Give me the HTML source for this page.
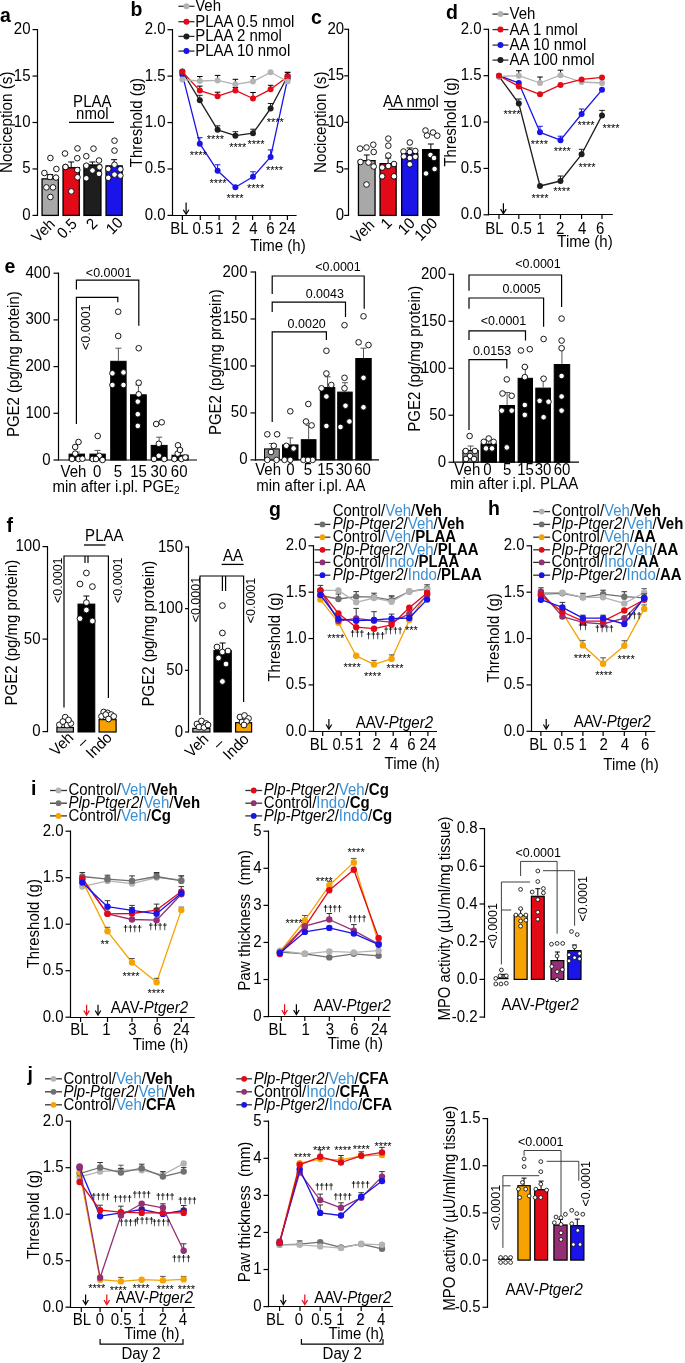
<!DOCTYPE html>
<html><head><meta charset="utf-8"><title>Figure</title>
<style>
html,body{margin:0;padding:0;background:#fff;}
body{width:685px;height:1363px;overflow:hidden;}
svg{display:block;will-change:transform;}
svg text{font-family:"Liberation Sans", sans-serif;}
</style></head><body>
<svg width="685" height="1363" viewBox="0 0 685 1363" font-family="Liberation Sans, sans-serif">
<rect width="685" height="1363" fill="#fff"/>
<text transform="translate(0 21.5) scale(1 1.04)" font-size="19.5" font-weight="bold">a</text>
<line x1="37.5" y1="29" x2="37.5" y2="216" stroke="#000" stroke-width="1.2" stroke-linecap="butt"/>
<line x1="32.5" y1="215.4" x2="37.5" y2="215.4" stroke="#000" stroke-width="1.2" stroke-linecap="butt"/>
<text transform="translate(30.5 219.9) scale(1 1.04)" font-size="15" text-anchor="end">0</text>
<line x1="32.5" y1="168.95" x2="37.5" y2="168.95" stroke="#000" stroke-width="1.2" stroke-linecap="butt"/>
<text transform="translate(30.5 173.45) scale(1 1.04)" font-size="15" text-anchor="end">5</text>
<line x1="32.5" y1="122.5" x2="37.5" y2="122.5" stroke="#000" stroke-width="1.2" stroke-linecap="butt"/>
<text transform="translate(30.5 127) scale(1 1.04)" font-size="15" text-anchor="end">10</text>
<line x1="32.5" y1="76.05" x2="37.5" y2="76.05" stroke="#000" stroke-width="1.2" stroke-linecap="butt"/>
<text transform="translate(30.5 80.55) scale(1 1.04)" font-size="15" text-anchor="end">15</text>
<line x1="32.5" y1="29.6" x2="37.5" y2="29.6" stroke="#000" stroke-width="1.2" stroke-linecap="butt"/>
<text transform="translate(30.5 34.1) scale(1 1.04)" font-size="15" text-anchor="end">20</text>
<text transform="translate(11.9 122.3) rotate(-90) scale(1 1.04)" font-size="15" text-anchor="middle" textLength="101.6" lengthAdjust="spacingAndGlyphs">Nociception (s)</text>
<rect x="42.05" y="178.89" width="16.3" height="36.51" fill="#a8a8a8" stroke="#000" stroke-width="1.3"/>
<line x1="50.2" y1="178.24" x2="50.2" y2="174.52" stroke="#000" stroke-width="1.0" stroke-linecap="butt"/>
<line x1="47.2" y1="174.52" x2="53.2" y2="174.52" stroke="#000" stroke-width="1.0" stroke-linecap="butt"/>
<rect x="63.05" y="167.74" width="16.3" height="47.66" fill="#e30a17" stroke="#000" stroke-width="1.3"/>
<line x1="71.2" y1="167.09" x2="71.2" y2="161.98" stroke="#000" stroke-width="1.0" stroke-linecap="butt"/>
<line x1="68.2" y1="161.98" x2="74.2" y2="161.98" stroke="#000" stroke-width="1.0" stroke-linecap="butt"/>
<rect x="83.95" y="164.96" width="17" height="50.45" fill="#1e1e1e" stroke="#000" stroke-width="1.3"/>
<line x1="92.45" y1="164.31" x2="92.45" y2="161.98" stroke="#000" stroke-width="1.0" stroke-linecap="butt"/>
<line x1="89.45" y1="161.98" x2="95.45" y2="161.98" stroke="#000" stroke-width="1.0" stroke-linecap="butt"/>
<rect x="106.05" y="165.88" width="16.1" height="49.52" fill="#1a14e8" stroke="#000" stroke-width="1.3"/>
<line x1="114.1" y1="165.23" x2="114.1" y2="159.66" stroke="#000" stroke-width="1.0" stroke-linecap="butt"/>
<line x1="111.1" y1="159.66" x2="117.1" y2="159.66" stroke="#000" stroke-width="1.0" stroke-linecap="butt"/>
<circle cx="50.4" cy="158" r="2.8" fill="#fff" stroke="#000" stroke-width="0.9"/>
<circle cx="44.4" cy="173" r="2.8" fill="#fff" stroke="#000" stroke-width="0.9"/>
<circle cx="56.4" cy="169" r="2.8" fill="#fff" stroke="#000" stroke-width="0.9"/>
<circle cx="50" cy="177" r="2.8" fill="#fff" stroke="#000" stroke-width="0.9"/>
<circle cx="56" cy="177.6" r="2.8" fill="#fff" stroke="#000" stroke-width="0.9"/>
<circle cx="46.4" cy="187.4" r="2.8" fill="#fff" stroke="#000" stroke-width="0.9"/>
<circle cx="53" cy="187.4" r="2.8" fill="#fff" stroke="#000" stroke-width="0.9"/>
<circle cx="50.4" cy="197" r="2.8" fill="#fff" stroke="#000" stroke-width="0.9"/>
<circle cx="65" cy="153.5" r="2.8" fill="#fff" stroke="#000" stroke-width="0.9"/>
<circle cx="77.5" cy="148.4" r="2.8" fill="#fff" stroke="#000" stroke-width="0.9"/>
<circle cx="65.5" cy="167" r="2.8" fill="#fff" stroke="#000" stroke-width="0.9"/>
<circle cx="77.3" cy="158.2" r="2.8" fill="#fff" stroke="#000" stroke-width="0.9"/>
<circle cx="77.5" cy="177.3" r="2.8" fill="#fff" stroke="#000" stroke-width="0.9"/>
<circle cx="65.5" cy="167" r="2.8" fill="#fff" stroke="#000" stroke-width="0.9"/>
<circle cx="71.3" cy="191.4" r="2.8" fill="#fff" stroke="#000" stroke-width="0.9"/>
<circle cx="77.3" cy="170" r="2.8" fill="#fff" stroke="#000" stroke-width="0.9"/>
<circle cx="86.3" cy="156.2" r="2.8" fill="#fff" stroke="#000" stroke-width="0.9"/>
<circle cx="93.5" cy="148.6" r="2.8" fill="#fff" stroke="#000" stroke-width="0.9"/>
<circle cx="99" cy="160.5" r="2.8" fill="#fff" stroke="#000" stroke-width="0.9"/>
<circle cx="86.3" cy="165.7" r="2.8" fill="#fff" stroke="#000" stroke-width="0.9"/>
<circle cx="92.5" cy="170.5" r="2.8" fill="#fff" stroke="#000" stroke-width="0.9"/>
<circle cx="99.5" cy="167.2" r="2.8" fill="#fff" stroke="#000" stroke-width="0.9"/>
<circle cx="86.3" cy="178.3" r="2.8" fill="#fff" stroke="#000" stroke-width="0.9"/>
<circle cx="99" cy="173.8" r="2.8" fill="#fff" stroke="#000" stroke-width="0.9"/>
<circle cx="114.5" cy="140.7" r="2.8" fill="#fff" stroke="#000" stroke-width="0.9"/>
<circle cx="114.5" cy="150.6" r="2.8" fill="#fff" stroke="#000" stroke-width="0.9"/>
<circle cx="114.5" cy="164.7" r="2.8" fill="#fff" stroke="#000" stroke-width="0.9"/>
<circle cx="108.3" cy="168.9" r="2.8" fill="#fff" stroke="#000" stroke-width="0.9"/>
<circle cx="120.4" cy="169.2" r="2.8" fill="#fff" stroke="#000" stroke-width="0.9"/>
<circle cx="114.5" cy="174.6" r="2.8" fill="#fff" stroke="#000" stroke-width="0.9"/>
<circle cx="108.3" cy="177.8" r="2.8" fill="#fff" stroke="#000" stroke-width="0.9"/>
<circle cx="120.4" cy="175.6" r="2.8" fill="#fff" stroke="#000" stroke-width="0.9"/>
<text transform="translate(92.3 106.6) scale(1 1.04)" font-size="15" text-anchor="middle">PLAA</text>
<text transform="translate(92.3 118.6) scale(1 1.04)" font-size="15" text-anchor="middle">nmol</text>
<line x1="69" y1="122.4" x2="114" y2="122.4" stroke="#000" stroke-width="1.3" stroke-linecap="butt"/>
<text transform="translate(56 225) rotate(-45) scale(1 1.04)" font-size="15" text-anchor="end">Veh</text>
<text transform="translate(78 224.8) rotate(-45) scale(1 1.04)" font-size="15" text-anchor="end">0.5</text>
<text transform="translate(98.5 224.5) rotate(-45) scale(1 1.04)" font-size="15" text-anchor="end">2</text>
<text transform="translate(124 223.5) rotate(-45) scale(1 1.04)" font-size="15" text-anchor="end">10</text>
<text transform="translate(130.5 15.5) scale(1 1.04)" font-size="19.5" font-weight="bold">b</text>
<line x1="172.5" y1="29.1" x2="172.5" y2="216" stroke="#000" stroke-width="1.2" stroke-linecap="butt"/>
<line x1="167.5" y1="215.4" x2="172.5" y2="215.4" stroke="#000" stroke-width="1.2" stroke-linecap="butt"/>
<text transform="translate(165.5 219.9) scale(1 1.04)" font-size="15" text-anchor="end">0.0</text>
<line x1="167.5" y1="168.97" x2="172.5" y2="168.97" stroke="#000" stroke-width="1.2" stroke-linecap="butt"/>
<text transform="translate(165.5 173.47) scale(1 1.04)" font-size="15" text-anchor="end">0.5</text>
<line x1="167.5" y1="122.55" x2="172.5" y2="122.55" stroke="#000" stroke-width="1.2" stroke-linecap="butt"/>
<text transform="translate(165.5 127.05) scale(1 1.04)" font-size="15" text-anchor="end">1.0</text>
<line x1="167.5" y1="76.12" x2="172.5" y2="76.12" stroke="#000" stroke-width="1.2" stroke-linecap="butt"/>
<text transform="translate(165.5 80.62) scale(1 1.04)" font-size="15" text-anchor="end">1.5</text>
<line x1="167.5" y1="29.7" x2="172.5" y2="29.7" stroke="#000" stroke-width="1.2" stroke-linecap="butt"/>
<text transform="translate(165.5 34.2) scale(1 1.04)" font-size="15" text-anchor="end">2.0</text>
<text transform="translate(142.2 122.6) rotate(-90) scale(1 1.04)" font-size="15" text-anchor="middle">Threshold (g)</text>
<line x1="171.9" y1="215.5" x2="296.6" y2="215.5" stroke="#000" stroke-width="1.2" stroke-linecap="butt"/>
<line x1="182.4" y1="215.5" x2="182.4" y2="220" stroke="#000" stroke-width="1.2" stroke-linecap="butt"/>
<line x1="200.3" y1="215.5" x2="200.3" y2="220" stroke="#000" stroke-width="1.2" stroke-linecap="butt"/>
<line x1="219.1" y1="215.5" x2="219.1" y2="220" stroke="#000" stroke-width="1.2" stroke-linecap="butt"/>
<line x1="235.8" y1="215.5" x2="235.8" y2="220" stroke="#000" stroke-width="1.2" stroke-linecap="butt"/>
<line x1="252.6" y1="215.5" x2="252.6" y2="220" stroke="#000" stroke-width="1.2" stroke-linecap="butt"/>
<line x1="270" y1="215.5" x2="270" y2="220" stroke="#000" stroke-width="1.2" stroke-linecap="butt"/>
<line x1="287.4" y1="215.5" x2="287.4" y2="220" stroke="#000" stroke-width="1.2" stroke-linecap="butt"/>
<text transform="translate(179.5 234.2) scale(1 1.04)" font-size="15" text-anchor="middle">BL</text>
<text transform="translate(202.9 234.2) scale(1 1.04)" font-size="15" text-anchor="middle">0.5</text>
<text transform="translate(219.3 234.2) scale(1 1.04)" font-size="15" text-anchor="middle">1</text>
<text transform="translate(236 234.2) scale(1 1.04)" font-size="15" text-anchor="middle">2</text>
<text transform="translate(253.3 234.2) scale(1 1.04)" font-size="15" text-anchor="middle">4</text>
<text transform="translate(270.5 234.2) scale(1 1.04)" font-size="15" text-anchor="middle">6</text>
<text transform="translate(287.2 234.2) scale(1 1.04)" font-size="15" text-anchor="middle">24</text>
<text transform="translate(278 251) scale(1 1.04)" font-size="15" text-anchor="middle">Time (h)</text>
<line x1="186.1" y1="202.4" x2="186.1" y2="213.2" stroke="#000" stroke-width="1.2" stroke-linecap="butt"/>
<polyline points="183.3,209.7 186.1,214.2 188.9,209.7" fill="none" stroke="#000" stroke-width="1.2" stroke-linejoin="miter"/>
<line x1="178.4" y1="6.3" x2="194.5" y2="6.3" stroke="#333" stroke-width="1.3" stroke-linecap="butt"/>
<circle cx="186.45" cy="6.3" r="3" fill="#b3b3b3"/>
<text transform="translate(195.2 11.2) scale(1 1.04)" font-size="15">Veh</text>
<line x1="178.4" y1="21.7" x2="194.5" y2="21.7" stroke="#333" stroke-width="1.3" stroke-linecap="butt"/>
<circle cx="186.45" cy="21.7" r="3" fill="#e30a17"/>
<text transform="translate(195.2 26.6) scale(1 1.04)" font-size="15">PLAA 0.5 nmol</text>
<line x1="178.4" y1="36.4" x2="194.5" y2="36.4" stroke="#333" stroke-width="1.3" stroke-linecap="butt"/>
<circle cx="186.45" cy="36.4" r="3" fill="#1e1e1e"/>
<text transform="translate(195.2 41.3) scale(1 1.04)" font-size="15">PLAA 2 nmol</text>
<line x1="178.4" y1="51.1" x2="194.5" y2="51.1" stroke="#333" stroke-width="1.3" stroke-linecap="butt"/>
<circle cx="186.45" cy="51.1" r="3" fill="#1a14e8"/>
<text transform="translate(195.2 56) scale(1 1.04)" font-size="15">PLAA 10 nmol</text>
<polyline points="182.3,74.4 199.8,143.7 217.6,170.8 235.4,187.3 253,176.8 270.6,156.9 287.6,78.8" fill="none" stroke="#1a14e8" stroke-width="1.3" stroke-linejoin="round"/>
<line x1="199.8" y1="143.7" x2="199.8" y2="137.7" stroke="#1a14e8" stroke-width="1.0" stroke-linecap="butt"/>
<line x1="197" y1="137.7" x2="202.6" y2="137.7" stroke="#1a14e8" stroke-width="1.0" stroke-linecap="butt"/>
<line x1="217.6" y1="170.8" x2="217.6" y2="164.8" stroke="#1a14e8" stroke-width="1.0" stroke-linecap="butt"/>
<line x1="214.8" y1="164.8" x2="220.4" y2="164.8" stroke="#1a14e8" stroke-width="1.0" stroke-linecap="butt"/>
<line x1="253" y1="176.8" x2="253" y2="171.8" stroke="#1a14e8" stroke-width="1.0" stroke-linecap="butt"/>
<line x1="250.2" y1="171.8" x2="255.8" y2="171.8" stroke="#1a14e8" stroke-width="1.0" stroke-linecap="butt"/>
<line x1="270.6" y1="156.9" x2="270.6" y2="149.9" stroke="#1a14e8" stroke-width="1.0" stroke-linecap="butt"/>
<line x1="267.8" y1="149.9" x2="273.4" y2="149.9" stroke="#1a14e8" stroke-width="1.0" stroke-linecap="butt"/>
<line x1="287.6" y1="78.8" x2="287.6" y2="74.8" stroke="#1a14e8" stroke-width="1.0" stroke-linecap="butt"/>
<line x1="284.8" y1="74.8" x2="290.4" y2="74.8" stroke="#1a14e8" stroke-width="1.0" stroke-linecap="butt"/>
<circle cx="182.3" cy="74.4" r="3" fill="#1a14e8"/>
<circle cx="199.8" cy="143.7" r="3" fill="#1a14e8"/>
<circle cx="217.6" cy="170.8" r="3" fill="#1a14e8"/>
<circle cx="235.4" cy="187.3" r="3" fill="#1a14e8"/>
<circle cx="253" cy="176.8" r="3" fill="#1a14e8"/>
<circle cx="270.6" cy="156.9" r="3" fill="#1a14e8"/>
<circle cx="287.6" cy="78.8" r="3" fill="#1a14e8"/>
<polyline points="182.3,71.5 199.8,100.3 217.6,129.8 235.4,135.7 253,133.2 270.6,108.5 287.6,76.2" fill="none" stroke="#1e1e1e" stroke-width="1.3" stroke-linejoin="round"/>
<line x1="199.8" y1="100.3" x2="199.8" y2="95.3" stroke="#1e1e1e" stroke-width="1.0" stroke-linecap="butt"/>
<line x1="197" y1="95.3" x2="202.6" y2="95.3" stroke="#1e1e1e" stroke-width="1.0" stroke-linecap="butt"/>
<line x1="217.6" y1="129.8" x2="217.6" y2="125.8" stroke="#1e1e1e" stroke-width="1.0" stroke-linecap="butt"/>
<line x1="214.8" y1="125.8" x2="220.4" y2="125.8" stroke="#1e1e1e" stroke-width="1.0" stroke-linecap="butt"/>
<line x1="235.4" y1="135.7" x2="235.4" y2="131.7" stroke="#1e1e1e" stroke-width="1.0" stroke-linecap="butt"/>
<line x1="232.6" y1="131.7" x2="238.2" y2="131.7" stroke="#1e1e1e" stroke-width="1.0" stroke-linecap="butt"/>
<line x1="253" y1="133.2" x2="253" y2="129.2" stroke="#1e1e1e" stroke-width="1.0" stroke-linecap="butt"/>
<line x1="250.2" y1="129.2" x2="255.8" y2="129.2" stroke="#1e1e1e" stroke-width="1.0" stroke-linecap="butt"/>
<line x1="270.6" y1="108.5" x2="270.6" y2="103.5" stroke="#1e1e1e" stroke-width="1.0" stroke-linecap="butt"/>
<line x1="267.8" y1="103.5" x2="273.4" y2="103.5" stroke="#1e1e1e" stroke-width="1.0" stroke-linecap="butt"/>
<line x1="287.6" y1="76.2" x2="287.6" y2="72.2" stroke="#1e1e1e" stroke-width="1.0" stroke-linecap="butt"/>
<line x1="284.8" y1="72.2" x2="290.4" y2="72.2" stroke="#1e1e1e" stroke-width="1.0" stroke-linecap="butt"/>
<circle cx="182.3" cy="71.5" r="3" fill="#1e1e1e"/>
<circle cx="199.8" cy="100.3" r="3" fill="#1e1e1e"/>
<circle cx="217.6" cy="129.8" r="3" fill="#1e1e1e"/>
<circle cx="235.4" cy="135.7" r="3" fill="#1e1e1e"/>
<circle cx="253" cy="133.2" r="3" fill="#1e1e1e"/>
<circle cx="270.6" cy="108.5" r="3" fill="#1e1e1e"/>
<circle cx="287.6" cy="76.2" r="3" fill="#1e1e1e"/>
<polyline points="182.3,71.7 199.8,90.6 217.6,96.2 235.4,90.4 253,98.5 270.6,89.3 287.6,76.7" fill="none" stroke="#e30a17" stroke-width="1.3" stroke-linejoin="round"/>
<line x1="199.8" y1="90.6" x2="199.8" y2="86.1" stroke="#000" stroke-width="1.0" stroke-linecap="butt"/>
<line x1="197" y1="86.1" x2="202.6" y2="86.1" stroke="#000" stroke-width="1.0" stroke-linecap="butt"/>
<line x1="217.6" y1="96.2" x2="217.6" y2="92.2" stroke="#000" stroke-width="1.0" stroke-linecap="butt"/>
<line x1="214.8" y1="92.2" x2="220.4" y2="92.2" stroke="#000" stroke-width="1.0" stroke-linecap="butt"/>
<line x1="235.4" y1="90.4" x2="235.4" y2="87.4" stroke="#000" stroke-width="1.0" stroke-linecap="butt"/>
<line x1="232.6" y1="87.4" x2="238.2" y2="87.4" stroke="#000" stroke-width="1.0" stroke-linecap="butt"/>
<line x1="253" y1="98.5" x2="253" y2="92.5" stroke="#000" stroke-width="1.0" stroke-linecap="butt"/>
<line x1="250.2" y1="92.5" x2="255.8" y2="92.5" stroke="#000" stroke-width="1.0" stroke-linecap="butt"/>
<line x1="270.6" y1="89.3" x2="270.6" y2="85.3" stroke="#000" stroke-width="1.0" stroke-linecap="butt"/>
<line x1="267.8" y1="85.3" x2="273.4" y2="85.3" stroke="#000" stroke-width="1.0" stroke-linecap="butt"/>
<line x1="287.6" y1="76.7" x2="287.6" y2="72.7" stroke="#000" stroke-width="1.0" stroke-linecap="butt"/>
<line x1="284.8" y1="72.7" x2="290.4" y2="72.7" stroke="#000" stroke-width="1.0" stroke-linecap="butt"/>
<circle cx="182.3" cy="71.7" r="3" fill="#e30a17"/>
<circle cx="199.8" cy="90.6" r="3" fill="#e30a17"/>
<circle cx="217.6" cy="96.2" r="3" fill="#e30a17"/>
<circle cx="235.4" cy="90.4" r="3" fill="#e30a17"/>
<circle cx="253" cy="98.5" r="3" fill="#e30a17"/>
<circle cx="270.6" cy="89.3" r="3" fill="#e30a17"/>
<circle cx="287.6" cy="76.7" r="3" fill="#e30a17"/>
<polyline points="182.3,79.6 199.8,81 217.6,80.4 235.4,84.3 253,81.5 270.6,72.3 287.6,81.5" fill="none" stroke="#b3b3b3" stroke-width="1.3" stroke-linejoin="round"/>
<line x1="199.8" y1="81" x2="199.8" y2="76.5" stroke="#000" stroke-width="1.0" stroke-linecap="butt"/>
<line x1="197" y1="76.5" x2="202.6" y2="76.5" stroke="#000" stroke-width="1.0" stroke-linecap="butt"/>
<line x1="217.6" y1="80.4" x2="217.6" y2="75.4" stroke="#000" stroke-width="1.0" stroke-linecap="butt"/>
<line x1="214.8" y1="75.4" x2="220.4" y2="75.4" stroke="#000" stroke-width="1.0" stroke-linecap="butt"/>
<line x1="235.4" y1="84.3" x2="235.4" y2="79.3" stroke="#000" stroke-width="1.0" stroke-linecap="butt"/>
<line x1="232.6" y1="79.3" x2="238.2" y2="79.3" stroke="#000" stroke-width="1.0" stroke-linecap="butt"/>
<line x1="253" y1="81.5" x2="253" y2="76.5" stroke="#000" stroke-width="1.0" stroke-linecap="butt"/>
<line x1="250.2" y1="76.5" x2="255.8" y2="76.5" stroke="#000" stroke-width="1.0" stroke-linecap="butt"/>
<circle cx="182.3" cy="79.6" r="3" fill="#b3b3b3"/>
<circle cx="199.8" cy="81" r="3" fill="#b3b3b3"/>
<circle cx="217.6" cy="80.4" r="3" fill="#b3b3b3"/>
<circle cx="235.4" cy="84.3" r="3" fill="#b3b3b3"/>
<circle cx="253" cy="81.5" r="3" fill="#b3b3b3"/>
<circle cx="270.6" cy="72.3" r="3" fill="#b3b3b3"/>
<circle cx="287.6" cy="81.5" r="3" fill="#b3b3b3"/>
<text transform="translate(275.3 125.9) scale(1 1.04)" font-size="11" text-anchor="middle">****</text>
<text transform="translate(215.4 143.4) scale(1 1.04)" font-size="11" text-anchor="middle">****</text>
<text transform="translate(237.7 151.4) scale(1 1.04)" font-size="11" text-anchor="middle">****</text>
<text transform="translate(256 148.4) scale(1 1.04)" font-size="11" text-anchor="middle">****</text>
<text transform="translate(198.3 159.4) scale(1 1.04)" font-size="11" text-anchor="middle">****</text>
<text transform="translate(218 186.9) scale(1 1.04)" font-size="11" text-anchor="middle">****</text>
<text transform="translate(235 201.9) scale(1 1.04)" font-size="11" text-anchor="middle">****</text>
<text transform="translate(255.6 192.4) scale(1 1.04)" font-size="11" text-anchor="middle">****</text>
<text transform="translate(274.5 173.9) scale(1 1.04)" font-size="11" text-anchor="middle">****</text>
<text transform="translate(311 24) scale(1 1.04)" font-size="19.5" font-weight="bold">c</text>
<line x1="348.5" y1="28.7" x2="348.5" y2="216" stroke="#000" stroke-width="1.2" stroke-linecap="butt"/>
<line x1="344.2" y1="215.4" x2="348.5" y2="215.4" stroke="#000" stroke-width="1.2" stroke-linecap="butt"/>
<text transform="translate(344.2 219.9) scale(1 1.04)" font-size="15" text-anchor="end">0</text>
<line x1="344.2" y1="168.88" x2="348.5" y2="168.88" stroke="#000" stroke-width="1.2" stroke-linecap="butt"/>
<text transform="translate(344.2 173.38) scale(1 1.04)" font-size="15" text-anchor="end">5</text>
<line x1="344.2" y1="122.35" x2="348.5" y2="122.35" stroke="#000" stroke-width="1.2" stroke-linecap="butt"/>
<text transform="translate(344.2 126.85) scale(1 1.04)" font-size="15" text-anchor="end">10</text>
<line x1="344.2" y1="75.83" x2="348.5" y2="75.83" stroke="#000" stroke-width="1.2" stroke-linecap="butt"/>
<text transform="translate(344.2 80.33) scale(1 1.04)" font-size="15" text-anchor="end">15</text>
<line x1="344.2" y1="29.3" x2="348.5" y2="29.3" stroke="#000" stroke-width="1.2" stroke-linecap="butt"/>
<text transform="translate(344.2 33.8) scale(1 1.04)" font-size="15" text-anchor="end">20</text>
<text transform="translate(326 122.3) rotate(-90) scale(1 1.04)" font-size="15" text-anchor="middle" textLength="101.6" lengthAdjust="spacingAndGlyphs">Nociception (s)</text>
<rect x="358.45" y="160.65" width="16.6" height="54.75" fill="#a8a8a8" stroke="#000" stroke-width="1.3"/>
<line x1="366.75" y1="160" x2="366.75" y2="155" stroke="#000" stroke-width="1.0" stroke-linecap="butt"/>
<line x1="363.75" y1="155" x2="369.75" y2="155" stroke="#000" stroke-width="1.0" stroke-linecap="butt"/>
<rect x="380.05" y="163.65" width="16.1" height="51.75" fill="#e30a17" stroke="#000" stroke-width="1.3"/>
<line x1="388.1" y1="163" x2="388.1" y2="158" stroke="#000" stroke-width="1.0" stroke-linecap="butt"/>
<line x1="385.1" y1="158" x2="391.1" y2="158" stroke="#000" stroke-width="1.0" stroke-linecap="butt"/>
<rect x="401.65" y="153.65" width="16.1" height="61.75" fill="#1a14e8" stroke="#000" stroke-width="1.3"/>
<line x1="409.7" y1="153" x2="409.7" y2="148" stroke="#000" stroke-width="1.0" stroke-linecap="butt"/>
<line x1="406.7" y1="148" x2="412.7" y2="148" stroke="#000" stroke-width="1.0" stroke-linecap="butt"/>
<rect x="422.65" y="149.65" width="16.4" height="65.75" fill="#000" stroke="#000" stroke-width="1.3"/>
<line x1="430.85" y1="149" x2="430.85" y2="144" stroke="#000" stroke-width="1.0" stroke-linecap="butt"/>
<line x1="427.85" y1="144" x2="433.85" y2="144" stroke="#000" stroke-width="1.0" stroke-linecap="butt"/>
<circle cx="360" cy="148.6" r="2.8" fill="#fff" stroke="#000" stroke-width="0.9"/>
<circle cx="366.5" cy="147.5" r="2.8" fill="#fff" stroke="#000" stroke-width="0.9"/>
<circle cx="373.3" cy="144.7" r="2.8" fill="#fff" stroke="#000" stroke-width="0.9"/>
<circle cx="360.5" cy="162" r="2.8" fill="#fff" stroke="#000" stroke-width="0.9"/>
<circle cx="368.5" cy="162.5" r="2.8" fill="#fff" stroke="#000" stroke-width="0.9"/>
<circle cx="373.7" cy="152" r="2.8" fill="#fff" stroke="#000" stroke-width="0.9"/>
<circle cx="373.7" cy="166.5" r="2.8" fill="#fff" stroke="#000" stroke-width="0.9"/>
<circle cx="366.5" cy="184.5" r="2.8" fill="#fff" stroke="#000" stroke-width="0.9"/>
<circle cx="388.3" cy="138.6" r="2.8" fill="#fff" stroke="#000" stroke-width="0.9"/>
<circle cx="388.3" cy="145.7" r="2.8" fill="#fff" stroke="#000" stroke-width="0.9"/>
<circle cx="382.2" cy="167.5" r="2.8" fill="#fff" stroke="#000" stroke-width="0.9"/>
<circle cx="394" cy="164" r="2.8" fill="#fff" stroke="#000" stroke-width="0.9"/>
<circle cx="382.2" cy="176.3" r="2.8" fill="#fff" stroke="#000" stroke-width="0.9"/>
<circle cx="394" cy="176.3" r="2.8" fill="#fff" stroke="#000" stroke-width="0.9"/>
<circle cx="388.3" cy="166" r="2.8" fill="#fff" stroke="#000" stroke-width="0.9"/>
<circle cx="388.3" cy="155.5" r="2.8" fill="#fff" stroke="#000" stroke-width="0.9"/>
<circle cx="409.8" cy="142.5" r="2.8" fill="#fff" stroke="#000" stroke-width="0.9"/>
<circle cx="403.5" cy="151.5" r="2.8" fill="#fff" stroke="#000" stroke-width="0.9"/>
<circle cx="415.3" cy="151" r="2.8" fill="#fff" stroke="#000" stroke-width="0.9"/>
<circle cx="409.8" cy="152" r="2.8" fill="#fff" stroke="#000" stroke-width="0.9"/>
<circle cx="403.8" cy="156.5" r="2.8" fill="#fff" stroke="#000" stroke-width="0.9"/>
<circle cx="409.8" cy="158" r="2.8" fill="#fff" stroke="#000" stroke-width="0.9"/>
<circle cx="415.3" cy="156.8" r="2.8" fill="#fff" stroke="#000" stroke-width="0.9"/>
<circle cx="409.8" cy="164.3" r="2.8" fill="#fff" stroke="#000" stroke-width="0.9"/>
<circle cx="425.5" cy="130.5" r="2.8" fill="#fff" stroke="#000" stroke-width="0.9"/>
<circle cx="433" cy="132.5" r="2.8" fill="#fff" stroke="#000" stroke-width="0.9"/>
<circle cx="437.3" cy="135.7" r="2.8" fill="#fff" stroke="#000" stroke-width="0.9"/>
<circle cx="427" cy="135.5" r="2.8" fill="#fff" stroke="#000" stroke-width="0.9"/>
<circle cx="430.5" cy="155" r="2.8" fill="#fff" stroke="#000" stroke-width="0.9"/>
<circle cx="434" cy="158" r="2.8" fill="#fff" stroke="#000" stroke-width="0.9"/>
<circle cx="426" cy="173.5" r="2.8" fill="#fff" stroke="#000" stroke-width="0.9"/>
<circle cx="434.6" cy="169" r="2.8" fill="#fff" stroke="#000" stroke-width="0.9"/>
<text transform="translate(411 106.6) scale(1 1.04)" font-size="15" text-anchor="middle">AA nmol</text>
<line x1="388" y1="109.4" x2="431" y2="109.4" stroke="#000" stroke-width="1.3" stroke-linecap="butt"/>
<text transform="translate(375.5 226) rotate(-45) scale(1 1.04)" font-size="15" text-anchor="end">Veh</text>
<text transform="translate(393 224) rotate(-45) scale(1 1.04)" font-size="15" text-anchor="end">1</text>
<text transform="translate(416 224) rotate(-45) scale(1 1.04)" font-size="15" text-anchor="end">10</text>
<text transform="translate(438.5 224) rotate(-45) scale(1 1.04)" font-size="15" text-anchor="end">100</text>
<text transform="translate(446 18.5) scale(1 1.04)" font-size="19.5" font-weight="bold">d</text>
<line x1="488.5" y1="28.7" x2="488.5" y2="215.4" stroke="#000" stroke-width="1.2" stroke-linecap="butt"/>
<line x1="483.5" y1="214.8" x2="488.5" y2="214.8" stroke="#000" stroke-width="1.2" stroke-linecap="butt"/>
<text transform="translate(481.5 219.3) scale(1 1.04)" font-size="15" text-anchor="end">0.0</text>
<line x1="483.5" y1="168.43" x2="488.5" y2="168.43" stroke="#000" stroke-width="1.2" stroke-linecap="butt"/>
<text transform="translate(481.5 172.93) scale(1 1.04)" font-size="15" text-anchor="end">0.5</text>
<line x1="483.5" y1="122.05" x2="488.5" y2="122.05" stroke="#000" stroke-width="1.2" stroke-linecap="butt"/>
<text transform="translate(481.5 126.55) scale(1 1.04)" font-size="15" text-anchor="end">1.0</text>
<line x1="483.5" y1="75.68" x2="488.5" y2="75.68" stroke="#000" stroke-width="1.2" stroke-linecap="butt"/>
<text transform="translate(481.5 80.18) scale(1 1.04)" font-size="15" text-anchor="end">1.5</text>
<line x1="483.5" y1="29.3" x2="488.5" y2="29.3" stroke="#000" stroke-width="1.2" stroke-linecap="butt"/>
<text transform="translate(481.5 33.8) scale(1 1.04)" font-size="15" text-anchor="end">2.0</text>
<text transform="translate(456.2 122) rotate(-90) scale(1 1.04)" font-size="15" text-anchor="middle">Threshold (g)</text>
<line x1="487.9" y1="214.5" x2="612.8" y2="214.5" stroke="#000" stroke-width="1.2" stroke-linecap="butt"/>
<line x1="499" y1="214.5" x2="499" y2="219" stroke="#000" stroke-width="1.2" stroke-linecap="butt"/>
<line x1="518.8" y1="214.5" x2="518.8" y2="219" stroke="#000" stroke-width="1.2" stroke-linecap="butt"/>
<line x1="540" y1="214.5" x2="540" y2="219" stroke="#000" stroke-width="1.2" stroke-linecap="butt"/>
<line x1="560.5" y1="214.5" x2="560.5" y2="219" stroke="#000" stroke-width="1.2" stroke-linecap="butt"/>
<line x1="581.6" y1="214.5" x2="581.6" y2="219" stroke="#000" stroke-width="1.2" stroke-linecap="butt"/>
<line x1="602" y1="214.5" x2="602" y2="219" stroke="#000" stroke-width="1.2" stroke-linecap="butt"/>
<text transform="translate(494.4 234.4) scale(1 1.04)" font-size="15" text-anchor="middle">BL</text>
<text transform="translate(521.4 234.4) scale(1 1.04)" font-size="15" text-anchor="middle">0.5</text>
<text transform="translate(540.6 234.4) scale(1 1.04)" font-size="15" text-anchor="middle">1</text>
<text transform="translate(560.2 234.4) scale(1 1.04)" font-size="15" text-anchor="middle">2</text>
<text transform="translate(582.2 234.4) scale(1 1.04)" font-size="15" text-anchor="middle">4</text>
<text transform="translate(600.2 234.4) scale(1 1.04)" font-size="15" text-anchor="middle">6</text>
<text transform="translate(585 246.5) scale(1 1.04)" font-size="15" text-anchor="middle">Time (h)</text>
<line x1="503.4" y1="203.3" x2="503.4" y2="212.6" stroke="#000" stroke-width="1.2" stroke-linecap="butt"/>
<polyline points="500.6,209.1 503.4,213.6 506.2,209.1" fill="none" stroke="#000" stroke-width="1.2" stroke-linejoin="miter"/>
<line x1="492.5" y1="14.1" x2="508.4" y2="14.1" stroke="#333" stroke-width="1.3" stroke-linecap="butt"/>
<circle cx="500.45" cy="14.1" r="3" fill="#b3b3b3"/>
<text transform="translate(509.6 19) scale(1 1.04)" font-size="15">Veh</text>
<line x1="492.5" y1="29.6" x2="508.4" y2="29.6" stroke="#333" stroke-width="1.3" stroke-linecap="butt"/>
<circle cx="500.45" cy="29.6" r="3" fill="#e30a17"/>
<text transform="translate(509.6 34.5) scale(1 1.04)" font-size="15">AA 1 nmol</text>
<line x1="492.5" y1="45.1" x2="508.4" y2="45.1" stroke="#333" stroke-width="1.3" stroke-linecap="butt"/>
<circle cx="500.45" cy="45.1" r="3" fill="#1a14e8"/>
<text transform="translate(509.6 50) scale(1 1.04)" font-size="15">AA 10 nmol</text>
<line x1="492.5" y1="60.1" x2="508.4" y2="60.1" stroke="#333" stroke-width="1.3" stroke-linecap="butt"/>
<circle cx="500.45" cy="60.1" r="3" fill="#1e1e1e"/>
<text transform="translate(509.6 65) scale(1 1.04)" font-size="15">AA 100 nmol</text>
<polyline points="499,76.4 518.8,103.5 540,186 560.5,181 581.6,154.3 602,115.4" fill="none" stroke="#1e1e1e" stroke-width="1.3" stroke-linejoin="round"/>
<line x1="518.8" y1="103.5" x2="518.8" y2="99" stroke="#1e1e1e" stroke-width="1.0" stroke-linecap="butt"/>
<line x1="516" y1="99" x2="521.6" y2="99" stroke="#1e1e1e" stroke-width="1.0" stroke-linecap="butt"/>
<line x1="560.5" y1="181" x2="560.5" y2="176" stroke="#1e1e1e" stroke-width="1.0" stroke-linecap="butt"/>
<line x1="557.7" y1="176" x2="563.3" y2="176" stroke="#1e1e1e" stroke-width="1.0" stroke-linecap="butt"/>
<line x1="581.6" y1="154.3" x2="581.6" y2="149.3" stroke="#1e1e1e" stroke-width="1.0" stroke-linecap="butt"/>
<line x1="578.8" y1="149.3" x2="584.4" y2="149.3" stroke="#1e1e1e" stroke-width="1.0" stroke-linecap="butt"/>
<line x1="602" y1="115.4" x2="602" y2="110.4" stroke="#1e1e1e" stroke-width="1.0" stroke-linecap="butt"/>
<line x1="599.2" y1="110.4" x2="604.8" y2="110.4" stroke="#1e1e1e" stroke-width="1.0" stroke-linecap="butt"/>
<circle cx="499" cy="76.4" r="3" fill="#1e1e1e"/>
<circle cx="518.8" cy="103.5" r="3" fill="#1e1e1e"/>
<circle cx="540" cy="186" r="3" fill="#1e1e1e"/>
<circle cx="560.5" cy="181" r="3" fill="#1e1e1e"/>
<circle cx="581.6" cy="154.3" r="3" fill="#1e1e1e"/>
<circle cx="602" cy="115.4" r="3" fill="#1e1e1e"/>
<polyline points="499,75.7 518.8,83 540,132.3 560.5,140.2 581.6,114 602,89.8" fill="none" stroke="#1a14e8" stroke-width="1.3" stroke-linejoin="round"/>
<line x1="540" y1="132.3" x2="540" y2="126.3" stroke="#1a14e8" stroke-width="1.0" stroke-linecap="butt"/>
<line x1="537.2" y1="126.3" x2="542.8" y2="126.3" stroke="#1a14e8" stroke-width="1.0" stroke-linecap="butt"/>
<line x1="560.5" y1="140.2" x2="560.5" y2="136.2" stroke="#1a14e8" stroke-width="1.0" stroke-linecap="butt"/>
<line x1="557.7" y1="136.2" x2="563.3" y2="136.2" stroke="#1a14e8" stroke-width="1.0" stroke-linecap="butt"/>
<line x1="581.6" y1="114" x2="581.6" y2="109" stroke="#1a14e8" stroke-width="1.0" stroke-linecap="butt"/>
<line x1="578.8" y1="109" x2="584.4" y2="109" stroke="#1a14e8" stroke-width="1.0" stroke-linecap="butt"/>
<circle cx="499" cy="75.7" r="3" fill="#1a14e8"/>
<circle cx="518.8" cy="83" r="3" fill="#1a14e8"/>
<circle cx="540" cy="132.3" r="3" fill="#1a14e8"/>
<circle cx="560.5" cy="140.2" r="3" fill="#1a14e8"/>
<circle cx="581.6" cy="114" r="3" fill="#1a14e8"/>
<circle cx="602" cy="89.8" r="3" fill="#1a14e8"/>
<polyline points="499,76.4 518.8,75.7 540,83 560.5,75.2 581.6,82 602,83" fill="none" stroke="#b3b3b3" stroke-width="1.3" stroke-linejoin="round"/>
<line x1="518.8" y1="75.7" x2="518.8" y2="70.7" stroke="#000" stroke-width="1.0" stroke-linecap="butt"/>
<line x1="516" y1="70.7" x2="521.6" y2="70.7" stroke="#000" stroke-width="1.0" stroke-linecap="butt"/>
<line x1="540" y1="83" x2="540" y2="77" stroke="#000" stroke-width="1.0" stroke-linecap="butt"/>
<line x1="537.2" y1="77" x2="542.8" y2="77" stroke="#000" stroke-width="1.0" stroke-linecap="butt"/>
<line x1="560.5" y1="75.2" x2="560.5" y2="70.2" stroke="#000" stroke-width="1.0" stroke-linecap="butt"/>
<line x1="557.7" y1="70.2" x2="563.3" y2="70.2" stroke="#000" stroke-width="1.0" stroke-linecap="butt"/>
<circle cx="499" cy="76.4" r="3" fill="#b3b3b3"/>
<circle cx="518.8" cy="75.7" r="3" fill="#b3b3b3"/>
<circle cx="540" cy="83" r="3" fill="#b3b3b3"/>
<circle cx="560.5" cy="75.2" r="3" fill="#b3b3b3"/>
<circle cx="581.6" cy="82" r="3" fill="#b3b3b3"/>
<circle cx="602" cy="83" r="3" fill="#b3b3b3"/>
<polyline points="499,75.7 518.8,86.4 540,94.3 560.5,84.9 581.6,79.4 602,77.4" fill="none" stroke="#e30a17" stroke-width="1.3" stroke-linejoin="round"/>
<circle cx="499" cy="75.7" r="3" fill="#e30a17"/>
<circle cx="518.8" cy="86.4" r="3" fill="#e30a17"/>
<circle cx="540" cy="94.3" r="3" fill="#e30a17"/>
<circle cx="560.5" cy="84.9" r="3" fill="#e30a17"/>
<circle cx="581.6" cy="79.4" r="3" fill="#e30a17"/>
<circle cx="602" cy="77.4" r="3" fill="#e30a17"/>
<text transform="translate(512 117.9) scale(1 1.04)" font-size="11" text-anchor="middle">****</text>
<text transform="translate(539.4 147.9) scale(1 1.04)" font-size="11" text-anchor="middle">****</text>
<text transform="translate(540 202.4) scale(1 1.04)" font-size="11" text-anchor="middle">****</text>
<text transform="translate(562.2 154.9) scale(1 1.04)" font-size="11" text-anchor="middle">****</text>
<text transform="translate(561.7 195.4) scale(1 1.04)" font-size="11" text-anchor="middle">****</text>
<text transform="translate(586 129.2) scale(1 1.04)" font-size="11" text-anchor="middle">****</text>
<text transform="translate(587 170.9) scale(1 1.04)" font-size="11" text-anchor="middle">****</text>
<text transform="translate(611 132.4) scale(1 1.04)" font-size="11" text-anchor="middle">****</text>
<text transform="translate(4.5 272.5) scale(1 1.04)" font-size="19.5" font-weight="bold">e</text>
<line x1="58.5" y1="272.6" x2="58.5" y2="460.6" stroke="#000" stroke-width="1.2" stroke-linecap="butt"/>
<line x1="53.5" y1="460" x2="58.5" y2="460" stroke="#000" stroke-width="1.2" stroke-linecap="butt"/>
<text transform="translate(50.5 464.5) scale(1 1.04)" font-size="15" text-anchor="end">0</text>
<line x1="53.5" y1="413.3" x2="58.5" y2="413.3" stroke="#000" stroke-width="1.2" stroke-linecap="butt"/>
<text transform="translate(50.5 417.8) scale(1 1.04)" font-size="15" text-anchor="end">100</text>
<line x1="53.5" y1="366.6" x2="58.5" y2="366.6" stroke="#000" stroke-width="1.2" stroke-linecap="butt"/>
<text transform="translate(50.5 371.1) scale(1 1.04)" font-size="15" text-anchor="end">200</text>
<line x1="53.5" y1="319.9" x2="58.5" y2="319.9" stroke="#000" stroke-width="1.2" stroke-linecap="butt"/>
<text transform="translate(50.5 324.4) scale(1 1.04)" font-size="15" text-anchor="end">300</text>
<line x1="53.5" y1="273.2" x2="58.5" y2="273.2" stroke="#000" stroke-width="1.2" stroke-linecap="butt"/>
<text transform="translate(50.5 277.7) scale(1 1.04)" font-size="15" text-anchor="end">400</text>
<text transform="translate(18.8 364.2) rotate(-90) scale(1 1.04)" font-size="15" text-anchor="middle">PGE2 (pg/mg protein)</text>
<line x1="58.2" y1="460" x2="197" y2="460" stroke="#000" stroke-width="1.2" stroke-linecap="butt"/>
<rect x="69.1" y="454.1" width="15.4" height="5.9" fill="#000" stroke="#000" stroke-width="1.0"/>
<line x1="76.8" y1="453.6" x2="76.8" y2="452" stroke="#555" stroke-width="1.0" stroke-linecap="butt"/>
<line x1="73.8" y1="452" x2="79.8" y2="452" stroke="#555" stroke-width="1.0" stroke-linecap="butt"/>
<rect x="89.9" y="454.1" width="15.4" height="5.9" fill="#000" stroke="#000" stroke-width="1.0"/>
<line x1="97.6" y1="453.6" x2="97.6" y2="450.4" stroke="#555" stroke-width="1.0" stroke-linecap="butt"/>
<line x1="94.6" y1="450.4" x2="100.6" y2="450.4" stroke="#555" stroke-width="1.0" stroke-linecap="butt"/>
<rect x="110.7" y="361.3" width="15.4" height="98.7" fill="#000" stroke="#000" stroke-width="1.0"/>
<line x1="118.4" y1="360.8" x2="118.4" y2="348.2" stroke="#555" stroke-width="1.0" stroke-linecap="butt"/>
<line x1="115.4" y1="348.2" x2="121.4" y2="348.2" stroke="#555" stroke-width="1.0" stroke-linecap="butt"/>
<rect x="130.5" y="394.8" width="15.8" height="65.2" fill="#000" stroke="#000" stroke-width="1.0"/>
<line x1="138.4" y1="394.3" x2="138.4" y2="385" stroke="#555" stroke-width="1.0" stroke-linecap="butt"/>
<line x1="135.4" y1="385" x2="141.4" y2="385" stroke="#555" stroke-width="1.0" stroke-linecap="butt"/>
<rect x="151.2" y="445.4" width="15.9" height="14.6" fill="#000" stroke="#000" stroke-width="1.0"/>
<line x1="159.15" y1="444.9" x2="159.15" y2="437.2" stroke="#555" stroke-width="1.0" stroke-linecap="butt"/>
<line x1="156.15" y1="437.2" x2="162.15" y2="437.2" stroke="#555" stroke-width="1.0" stroke-linecap="butt"/>
<rect x="172" y="455.2" width="16.1" height="4.8" fill="#000" stroke="#000" stroke-width="1.0"/>
<line x1="180.05" y1="454.7" x2="180.05" y2="448.6" stroke="#555" stroke-width="1.0" stroke-linecap="butt"/>
<line x1="177.05" y1="448.6" x2="183.05" y2="448.6" stroke="#555" stroke-width="1.0" stroke-linecap="butt"/>
<circle cx="78.5" cy="442" r="2.8" fill="#fff" stroke="#000" stroke-width="0.9"/>
<circle cx="75.2" cy="447" r="2.8" fill="#fff" stroke="#000" stroke-width="0.9"/>
<circle cx="75.2" cy="453.6" r="2.8" fill="#fff" stroke="#000" stroke-width="0.9"/>
<circle cx="72" cy="459" r="2.8" fill="#fff" stroke="#000" stroke-width="0.9"/>
<circle cx="78.5" cy="459" r="2.8" fill="#fff" stroke="#000" stroke-width="0.9"/>
<circle cx="82.4" cy="458.7" r="2.8" fill="#fff" stroke="#000" stroke-width="0.9"/>
<circle cx="97.7" cy="436" r="2.8" fill="#fff" stroke="#000" stroke-width="0.9"/>
<circle cx="92.7" cy="459" r="2.8" fill="#fff" stroke="#000" stroke-width="0.9"/>
<circle cx="99.3" cy="455.8" r="2.8" fill="#fff" stroke="#000" stroke-width="0.9"/>
<circle cx="102.5" cy="460" r="2.8" fill="#fff" stroke="#000" stroke-width="0.9"/>
<circle cx="96" cy="459" r="2.8" fill="#fff" stroke="#000" stroke-width="0.9"/>
<circle cx="118.2" cy="311.7" r="2.8" fill="#fff" stroke="#000" stroke-width="0.9"/>
<circle cx="118.2" cy="336" r="2.8" fill="#fff" stroke="#000" stroke-width="0.9"/>
<circle cx="112.4" cy="373.3" r="2.8" fill="#fff" stroke="#000" stroke-width="0.9"/>
<circle cx="123.5" cy="372.4" r="2.8" fill="#fff" stroke="#000" stroke-width="0.9"/>
<circle cx="112.4" cy="385" r="2.8" fill="#fff" stroke="#000" stroke-width="0.9"/>
<circle cx="123.5" cy="385" r="2.8" fill="#fff" stroke="#000" stroke-width="0.9"/>
<circle cx="138.7" cy="348.2" r="2.8" fill="#fff" stroke="#000" stroke-width="0.9"/>
<circle cx="138.7" cy="382.7" r="2.8" fill="#fff" stroke="#000" stroke-width="0.9"/>
<circle cx="138.7" cy="394.3" r="2.8" fill="#fff" stroke="#000" stroke-width="0.9"/>
<circle cx="137.8" cy="401.6" r="2.8" fill="#fff" stroke="#000" stroke-width="0.9"/>
<circle cx="137.8" cy="414.2" r="2.8" fill="#fff" stroke="#000" stroke-width="0.9"/>
<circle cx="137.8" cy="425.9" r="2.8" fill="#fff" stroke="#000" stroke-width="0.9"/>
<circle cx="156.2" cy="424" r="2.8" fill="#fff" stroke="#000" stroke-width="0.9"/>
<circle cx="161.7" cy="422.3" r="2.8" fill="#fff" stroke="#000" stroke-width="0.9"/>
<circle cx="158.8" cy="443.8" r="2.8" fill="#fff" stroke="#000" stroke-width="0.9"/>
<circle cx="158.8" cy="455.8" r="2.8" fill="#fff" stroke="#000" stroke-width="0.9"/>
<circle cx="154" cy="459" r="2.8" fill="#fff" stroke="#000" stroke-width="0.9"/>
<circle cx="164.3" cy="459" r="2.8" fill="#fff" stroke="#000" stroke-width="0.9"/>
<circle cx="178" cy="445.3" r="2.8" fill="#fff" stroke="#000" stroke-width="0.9"/>
<circle cx="177.7" cy="453.6" r="2.8" fill="#fff" stroke="#000" stroke-width="0.9"/>
<circle cx="174.4" cy="459" r="2.8" fill="#fff" stroke="#000" stroke-width="0.9"/>
<circle cx="181.4" cy="459" r="2.8" fill="#fff" stroke="#000" stroke-width="0.9"/>
<circle cx="185.3" cy="457.4" r="2.8" fill="#fff" stroke="#000" stroke-width="0.9"/>
<circle cx="180" cy="450" r="2.8" fill="#fff" stroke="#000" stroke-width="0.9"/>
<polyline points="76.4,289.4 76.4,280.2 138.8,280.2 138.8,325.8" fill="none" stroke="#000" stroke-width="1.2" stroke-linejoin="miter"/>
<polyline points="76.4,424 76.4,297.3 117.8,297.3 117.8,302.2" fill="none" stroke="#000" stroke-width="1.2" stroke-linejoin="miter"/>
<text transform="translate(108.6 276.6) scale(1 1.04)" font-size="12.5" text-anchor="middle">&lt;0.0001</text>
<text transform="translate(89.6 327.2) rotate(-90) scale(1 1.04)" font-size="12.5" text-anchor="middle">&lt;0.0001</text>
<text transform="translate(73.5 476.6) scale(1 1.04)" font-size="15" text-anchor="middle">Veh</text>
<text transform="translate(97.1 476.6) scale(1 1.04)" font-size="15" text-anchor="middle">0</text>
<text transform="translate(117.9 476.6) scale(1 1.04)" font-size="15" text-anchor="middle">5</text>
<text transform="translate(138.6 476.6) scale(1 1.04)" font-size="15" text-anchor="middle">15</text>
<text transform="translate(158.9 476.6) scale(1 1.04)" font-size="15" text-anchor="middle">30</text>
<text transform="translate(179.2 476.6) scale(1 1.04)" font-size="15" text-anchor="middle">60</text>
<text transform="translate(116 491.5) scale(1 1.04)" font-size="15" text-anchor="middle">min after i.pl. PGE<tspan font-size="10" dy="2">2</tspan></text>
<line x1="255.5" y1="271.4" x2="255.5" y2="460.5" stroke="#000" stroke-width="1.2" stroke-linecap="butt"/>
<line x1="250.5" y1="459.9" x2="255.5" y2="459.9" stroke="#000" stroke-width="1.2" stroke-linecap="butt"/>
<text transform="translate(247.5 464.4) scale(1 1.04)" font-size="15" text-anchor="end">0</text>
<line x1="250.5" y1="412.92" x2="255.5" y2="412.92" stroke="#000" stroke-width="1.2" stroke-linecap="butt"/>
<text transform="translate(247.5 417.42) scale(1 1.04)" font-size="15" text-anchor="end">50</text>
<line x1="250.5" y1="365.95" x2="255.5" y2="365.95" stroke="#000" stroke-width="1.2" stroke-linecap="butt"/>
<text transform="translate(247.5 370.45) scale(1 1.04)" font-size="15" text-anchor="end">100</text>
<line x1="250.5" y1="318.98" x2="255.5" y2="318.98" stroke="#000" stroke-width="1.2" stroke-linecap="butt"/>
<text transform="translate(247.5 323.48) scale(1 1.04)" font-size="15" text-anchor="end">150</text>
<line x1="250.5" y1="272" x2="255.5" y2="272" stroke="#000" stroke-width="1.2" stroke-linecap="butt"/>
<text transform="translate(247.5 276.5) scale(1 1.04)" font-size="15" text-anchor="end">200</text>
<text transform="translate(221 362.2) rotate(-90) scale(1 1.04)" font-size="15" text-anchor="middle">PGE2 (pg/mg protein)</text>
<line x1="255.1" y1="459.9" x2="379" y2="459.9" stroke="#000" stroke-width="1.2" stroke-linecap="butt"/>
<rect x="264.5" y="448.9" width="14.8" height="11" fill="#8c8c8c" stroke="#000" stroke-width="1.0"/>
<line x1="271.9" y1="448.4" x2="271.9" y2="443.5" stroke="#555" stroke-width="1.0" stroke-linecap="butt"/>
<line x1="268.9" y1="443.5" x2="274.9" y2="443.5" stroke="#555" stroke-width="1.0" stroke-linecap="butt"/>
<rect x="282.5" y="444.9" width="15.5" height="15" fill="#000" stroke="#000" stroke-width="1.0"/>
<line x1="290.25" y1="444.4" x2="290.25" y2="437.9" stroke="#555" stroke-width="1.0" stroke-linecap="butt"/>
<line x1="287.25" y1="437.9" x2="293.25" y2="437.9" stroke="#555" stroke-width="1.0" stroke-linecap="butt"/>
<rect x="301.3" y="439.7" width="14.7" height="20.2" fill="#000" stroke="#000" stroke-width="1.0"/>
<line x1="308.65" y1="439.2" x2="308.65" y2="425.4" stroke="#555" stroke-width="1.0" stroke-linecap="butt"/>
<line x1="305.65" y1="425.4" x2="311.65" y2="425.4" stroke="#555" stroke-width="1.0" stroke-linecap="butt"/>
<rect x="320.3" y="387.5" width="14.5" height="72.4" fill="#000" stroke="#000" stroke-width="1.0"/>
<line x1="327.55" y1="387" x2="327.55" y2="376.8" stroke="#555" stroke-width="1.0" stroke-linecap="butt"/>
<line x1="324.55" y1="376.8" x2="330.55" y2="376.8" stroke="#555" stroke-width="1.0" stroke-linecap="butt"/>
<rect x="337.7" y="392.1" width="14.5" height="67.8" fill="#000" stroke="#000" stroke-width="1.0"/>
<line x1="344.95" y1="391.6" x2="344.95" y2="382.7" stroke="#555" stroke-width="1.0" stroke-linecap="butt"/>
<line x1="341.95" y1="382.7" x2="347.95" y2="382.7" stroke="#555" stroke-width="1.0" stroke-linecap="butt"/>
<rect x="355.8" y="358.5" width="15.4" height="101.4" fill="#000" stroke="#000" stroke-width="1.0"/>
<line x1="363.5" y1="358" x2="363.5" y2="348.2" stroke="#555" stroke-width="1.0" stroke-linecap="butt"/>
<line x1="360.5" y1="348.2" x2="366.5" y2="348.2" stroke="#555" stroke-width="1.0" stroke-linecap="butt"/>
<circle cx="267.3" cy="434.3" r="2.8" fill="#fff" stroke="#000" stroke-width="0.9"/>
<circle cx="277.1" cy="434.3" r="2.8" fill="#fff" stroke="#000" stroke-width="0.9"/>
<circle cx="273.8" cy="445.8" r="2.8" fill="#fff" stroke="#000" stroke-width="0.9"/>
<circle cx="267.3" cy="459.9" r="2.8" fill="#fff" stroke="#000" stroke-width="0.9"/>
<circle cx="276.5" cy="459.9" r="2.8" fill="#fff" stroke="#000" stroke-width="0.9"/>
<circle cx="271" cy="452" r="2.8" fill="#fff" stroke="#000" stroke-width="0.9"/>
<circle cx="290.3" cy="411.3" r="2.8" fill="#fff" stroke="#000" stroke-width="0.9"/>
<circle cx="286.3" cy="445.8" r="2.8" fill="#fff" stroke="#000" stroke-width="0.9"/>
<circle cx="293.6" cy="448.4" r="2.8" fill="#fff" stroke="#000" stroke-width="0.9"/>
<circle cx="290.3" cy="459.9" r="2.8" fill="#fff" stroke="#000" stroke-width="0.9"/>
<circle cx="284.5" cy="459.9" r="2.8" fill="#fff" stroke="#000" stroke-width="0.9"/>
<circle cx="308.3" cy="404" r="2.8" fill="#fff" stroke="#000" stroke-width="0.9"/>
<circle cx="306" cy="421.5" r="2.8" fill="#fff" stroke="#000" stroke-width="0.9"/>
<circle cx="311.6" cy="425.4" r="2.8" fill="#fff" stroke="#000" stroke-width="0.9"/>
<circle cx="303.4" cy="459.9" r="2.8" fill="#fff" stroke="#000" stroke-width="0.9"/>
<circle cx="312.6" cy="459.9" r="2.8" fill="#fff" stroke="#000" stroke-width="0.9"/>
<circle cx="308" cy="459.9" r="2.8" fill="#fff" stroke="#000" stroke-width="0.9"/>
<circle cx="326.4" cy="350.8" r="2.8" fill="#fff" stroke="#000" stroke-width="0.9"/>
<circle cx="326.4" cy="373.5" r="2.8" fill="#fff" stroke="#000" stroke-width="0.9"/>
<circle cx="321.5" cy="388.3" r="2.8" fill="#fff" stroke="#000" stroke-width="0.9"/>
<circle cx="331.3" cy="385" r="2.8" fill="#fff" stroke="#000" stroke-width="0.9"/>
<circle cx="326.4" cy="396.5" r="2.8" fill="#fff" stroke="#000" stroke-width="0.9"/>
<circle cx="326.4" cy="426" r="2.8" fill="#fff" stroke="#000" stroke-width="0.9"/>
<circle cx="344.5" cy="325.2" r="2.8" fill="#fff" stroke="#000" stroke-width="0.9"/>
<circle cx="344.5" cy="377.8" r="2.8" fill="#fff" stroke="#000" stroke-width="0.9"/>
<circle cx="344.5" cy="388.3" r="2.8" fill="#fff" stroke="#000" stroke-width="0.9"/>
<circle cx="345.5" cy="405.7" r="2.8" fill="#fff" stroke="#000" stroke-width="0.9"/>
<circle cx="340.5" cy="427" r="2.8" fill="#fff" stroke="#000" stroke-width="0.9"/>
<circle cx="349.4" cy="421.5" r="2.8" fill="#fff" stroke="#000" stroke-width="0.9"/>
<circle cx="363.5" cy="316.3" r="2.8" fill="#fff" stroke="#000" stroke-width="0.9"/>
<circle cx="358.6" cy="342.3" r="2.8" fill="#fff" stroke="#000" stroke-width="0.9"/>
<circle cx="368.5" cy="345" r="2.8" fill="#fff" stroke="#000" stroke-width="0.9"/>
<circle cx="363.5" cy="377.8" r="2.8" fill="#fff" stroke="#000" stroke-width="0.9"/>
<circle cx="363.5" cy="407.3" r="2.8" fill="#fff" stroke="#000" stroke-width="0.9"/>
<polyline points="272.2,294 272.2,276 364.2,276 364.2,308.8" fill="none" stroke="#000" stroke-width="1.2" stroke-linejoin="miter"/>
<polyline points="272.2,312 272.2,302.2 345.5,302.2 345.5,317" fill="none" stroke="#000" stroke-width="1.2" stroke-linejoin="miter"/>
<polyline points="272.2,422 272.2,331.8 326.4,331.8 326.4,340" fill="none" stroke="#000" stroke-width="1.2" stroke-linejoin="miter"/>
<text transform="translate(338 271) scale(1 1.04)" font-size="12.5" text-anchor="middle">&lt;0.0001</text>
<text transform="translate(324.8 298) scale(1 1.04)" font-size="12.5" text-anchor="middle">0.0043</text>
<text transform="translate(306.7 327.8) scale(1 1.04)" font-size="12.5" text-anchor="middle">0.0020</text>
<text transform="translate(268.1 474.7) scale(1 1.04)" font-size="15" text-anchor="middle">Veh</text>
<text transform="translate(290.3 474.7) scale(1 1.04)" font-size="15" text-anchor="middle">0</text>
<text transform="translate(307.8 474.7) scale(1 1.04)" font-size="15" text-anchor="middle">5</text>
<text transform="translate(325.5 474.7) scale(1 1.04)" font-size="15" text-anchor="middle">15</text>
<text transform="translate(344 474.7) scale(1 1.04)" font-size="15" text-anchor="middle">30</text>
<text transform="translate(362.5 474.7) scale(1 1.04)" font-size="15" text-anchor="middle">60</text>
<text transform="translate(310.8 491) scale(1 1.04)" font-size="15" text-anchor="middle">min after i.pl. AA</text>
<line x1="453.5" y1="273.7" x2="453.5" y2="462.8" stroke="#000" stroke-width="1.2" stroke-linecap="butt"/>
<line x1="448.5" y1="462.2" x2="453.5" y2="462.2" stroke="#000" stroke-width="1.2" stroke-linecap="butt"/>
<text transform="translate(446 466.7) scale(1 1.04)" font-size="15" text-anchor="end">0</text>
<line x1="448.5" y1="415.23" x2="453.5" y2="415.23" stroke="#000" stroke-width="1.2" stroke-linecap="butt"/>
<text transform="translate(446 419.73) scale(1 1.04)" font-size="15" text-anchor="end">50</text>
<line x1="448.5" y1="368.25" x2="453.5" y2="368.25" stroke="#000" stroke-width="1.2" stroke-linecap="butt"/>
<text transform="translate(446 372.75) scale(1 1.04)" font-size="15" text-anchor="end">100</text>
<line x1="448.5" y1="321.27" x2="453.5" y2="321.27" stroke="#000" stroke-width="1.2" stroke-linecap="butt"/>
<text transform="translate(446 325.77) scale(1 1.04)" font-size="15" text-anchor="end">150</text>
<line x1="448.5" y1="274.3" x2="453.5" y2="274.3" stroke="#000" stroke-width="1.2" stroke-linecap="butt"/>
<text transform="translate(446 278.8) scale(1 1.04)" font-size="15" text-anchor="end">200</text>
<text transform="translate(419.5 358.8) rotate(-90) scale(1 1.04)" font-size="15" text-anchor="middle">PGE2 (pg/mg protein)</text>
<line x1="453.2" y1="462.2" x2="579" y2="462.2" stroke="#000" stroke-width="1.2" stroke-linecap="butt"/>
<rect x="462.9" y="450.5" width="15.4" height="11.7" fill="#8c8c8c" stroke="#000" stroke-width="1.0"/>
<line x1="470.6" y1="450" x2="470.6" y2="446" stroke="#555" stroke-width="1.0" stroke-linecap="butt"/>
<line x1="467.6" y1="446" x2="473.6" y2="446" stroke="#555" stroke-width="1.0" stroke-linecap="butt"/>
<rect x="481" y="444" width="15.5" height="18.2" fill="#000" stroke="#000" stroke-width="1.0"/>
<line x1="488.75" y1="443.5" x2="488.75" y2="440" stroke="#555" stroke-width="1.0" stroke-linecap="butt"/>
<line x1="485.75" y1="440" x2="491.75" y2="440" stroke="#555" stroke-width="1.0" stroke-linecap="butt"/>
<rect x="499.7" y="405.5" width="14.8" height="56.7" fill="#000" stroke="#000" stroke-width="1.0"/>
<line x1="507.1" y1="405" x2="507.1" y2="392.5" stroke="#555" stroke-width="1.0" stroke-linecap="butt"/>
<line x1="504.1" y1="392.5" x2="510.1" y2="392.5" stroke="#555" stroke-width="1.0" stroke-linecap="butt"/>
<rect x="518.1" y="378.3" width="14.4" height="83.9" fill="#000" stroke="#000" stroke-width="1.0"/>
<line x1="525.3" y1="377.8" x2="525.3" y2="367" stroke="#555" stroke-width="1.0" stroke-linecap="butt"/>
<line x1="522.3" y1="367" x2="528.3" y2="367" stroke="#555" stroke-width="1.0" stroke-linecap="butt"/>
<rect x="535.8" y="388.1" width="14.7" height="74.1" fill="#000" stroke="#000" stroke-width="1.0"/>
<line x1="543.15" y1="387.6" x2="543.15" y2="378.4" stroke="#555" stroke-width="1.0" stroke-linecap="butt"/>
<line x1="540.15" y1="378.4" x2="546.15" y2="378.4" stroke="#555" stroke-width="1.0" stroke-linecap="butt"/>
<rect x="554.2" y="364.5" width="15.5" height="97.7" fill="#000" stroke="#000" stroke-width="1.0"/>
<line x1="561.95" y1="364" x2="561.95" y2="348.2" stroke="#555" stroke-width="1.0" stroke-linecap="butt"/>
<line x1="558.95" y1="348.2" x2="564.95" y2="348.2" stroke="#555" stroke-width="1.0" stroke-linecap="butt"/>
<circle cx="469.6" cy="436" r="2.8" fill="#fff" stroke="#000" stroke-width="0.9"/>
<circle cx="465.7" cy="451" r="2.8" fill="#fff" stroke="#000" stroke-width="0.9"/>
<circle cx="474.9" cy="451" r="2.8" fill="#fff" stroke="#000" stroke-width="0.9"/>
<circle cx="470" cy="456" r="2.8" fill="#fff" stroke="#000" stroke-width="0.9"/>
<circle cx="466" cy="459" r="2.8" fill="#fff" stroke="#000" stroke-width="0.9"/>
<circle cx="474" cy="459" r="2.8" fill="#fff" stroke="#000" stroke-width="0.9"/>
<circle cx="488.7" cy="438.5" r="2.8" fill="#fff" stroke="#000" stroke-width="0.9"/>
<circle cx="483.8" cy="441.8" r="2.8" fill="#fff" stroke="#000" stroke-width="0.9"/>
<circle cx="493.6" cy="441.8" r="2.8" fill="#fff" stroke="#000" stroke-width="0.9"/>
<circle cx="486" cy="448.4" r="2.8" fill="#fff" stroke="#000" stroke-width="0.9"/>
<circle cx="492" cy="448.4" r="2.8" fill="#fff" stroke="#000" stroke-width="0.9"/>
<circle cx="506.8" cy="379.4" r="2.8" fill="#fff" stroke="#000" stroke-width="0.9"/>
<circle cx="502.5" cy="393.5" r="2.8" fill="#fff" stroke="#000" stroke-width="0.9"/>
<circle cx="511.7" cy="395.8" r="2.8" fill="#fff" stroke="#000" stroke-width="0.9"/>
<circle cx="501.8" cy="410.6" r="2.8" fill="#fff" stroke="#000" stroke-width="0.9"/>
<circle cx="511.7" cy="410.6" r="2.8" fill="#fff" stroke="#000" stroke-width="0.9"/>
<circle cx="506.8" cy="447.4" r="2.8" fill="#fff" stroke="#000" stroke-width="0.9"/>
<circle cx="520.9" cy="350.5" r="2.8" fill="#fff" stroke="#000" stroke-width="0.9"/>
<circle cx="529.8" cy="349.2" r="2.8" fill="#fff" stroke="#000" stroke-width="0.9"/>
<circle cx="524.8" cy="366.9" r="2.8" fill="#fff" stroke="#000" stroke-width="0.9"/>
<circle cx="524.8" cy="377.1" r="2.8" fill="#fff" stroke="#000" stroke-width="0.9"/>
<circle cx="524.8" cy="405" r="2.8" fill="#fff" stroke="#000" stroke-width="0.9"/>
<circle cx="524.8" cy="414.9" r="2.8" fill="#fff" stroke="#000" stroke-width="0.9"/>
<circle cx="543.6" cy="339" r="2.8" fill="#fff" stroke="#000" stroke-width="0.9"/>
<circle cx="543.6" cy="378.7" r="2.8" fill="#fff" stroke="#000" stroke-width="0.9"/>
<circle cx="539.6" cy="400.8" r="2.8" fill="#fff" stroke="#000" stroke-width="0.9"/>
<circle cx="548.5" cy="401.7" r="2.8" fill="#fff" stroke="#000" stroke-width="0.9"/>
<circle cx="543.6" cy="417.2" r="2.8" fill="#fff" stroke="#000" stroke-width="0.9"/>
<circle cx="561.6" cy="318.6" r="2.8" fill="#fff" stroke="#000" stroke-width="0.9"/>
<circle cx="561.6" cy="340.6" r="2.8" fill="#fff" stroke="#000" stroke-width="0.9"/>
<circle cx="561.6" cy="348.2" r="2.8" fill="#fff" stroke="#000" stroke-width="0.9"/>
<circle cx="561.6" cy="376" r="2.8" fill="#fff" stroke="#000" stroke-width="0.9"/>
<circle cx="561.6" cy="396.5" r="2.8" fill="#fff" stroke="#000" stroke-width="0.9"/>
<circle cx="561.6" cy="410.6" r="2.8" fill="#fff" stroke="#000" stroke-width="0.9"/>
<polyline points="469,290.7 469,275 561.6,275 561.6,307" fill="none" stroke="#000" stroke-width="1.2" stroke-linejoin="miter"/>
<polyline points="469,308.8 469,298 543.6,298 543.6,326.8" fill="none" stroke="#000" stroke-width="1.2" stroke-linejoin="miter"/>
<polyline points="469,340 469,330.8 525.5,330.8 525.5,340.6" fill="none" stroke="#000" stroke-width="1.2" stroke-linejoin="miter"/>
<polyline points="469,430 469,359.7 506.8,359.7 506.8,368.6" fill="none" stroke="#000" stroke-width="1.2" stroke-linejoin="miter"/>
<text transform="translate(538 267.7) scale(1 1.04)" font-size="12.5" text-anchor="middle">&lt;0.0001</text>
<text transform="translate(521.5 293.3) scale(1 1.04)" font-size="12.5" text-anchor="middle">0.0005</text>
<text transform="translate(503.5 325.2) scale(1 1.04)" font-size="12.5" text-anchor="middle">&lt;0.0001</text>
<text transform="translate(492 354.8) scale(1 1.04)" font-size="12.5" text-anchor="middle">0.0153</text>
<text transform="translate(467.3 475.3) scale(1 1.04)" font-size="15" text-anchor="middle">Veh</text>
<text transform="translate(487.5 475.3) scale(1 1.04)" font-size="15" text-anchor="middle">0</text>
<text transform="translate(507.2 475.3) scale(1 1.04)" font-size="15" text-anchor="middle">5</text>
<text transform="translate(525.6 475.3) scale(1 1.04)" font-size="15" text-anchor="middle">15</text>
<text transform="translate(543.1 475.3) scale(1 1.04)" font-size="15" text-anchor="middle">30</text>
<text transform="translate(562 475.3) scale(1 1.04)" font-size="15" text-anchor="middle">60</text>
<text transform="translate(514.2 489.4) scale(1 1.04)" font-size="15" text-anchor="middle">min after i.pl. PLAA</text>
<text transform="translate(6.5 532) scale(1 1.04)" font-size="19.5" font-weight="bold">f</text>
<line x1="47.5" y1="546" x2="47.5" y2="732.2" stroke="#000" stroke-width="1.2" stroke-linecap="butt"/>
<line x1="42.5" y1="731.6" x2="47.5" y2="731.6" stroke="#000" stroke-width="1.2" stroke-linecap="butt"/>
<text transform="translate(40.5 736.1) scale(1 1.04)" font-size="15" text-anchor="end">0</text>
<line x1="42.5" y1="639.1" x2="47.5" y2="639.1" stroke="#000" stroke-width="1.2" stroke-linecap="butt"/>
<text transform="translate(40.5 643.6) scale(1 1.04)" font-size="15" text-anchor="end">50</text>
<line x1="42.5" y1="546.6" x2="47.5" y2="546.6" stroke="#000" stroke-width="1.2" stroke-linecap="butt"/>
<text transform="translate(40.5 551.1) scale(1 1.04)" font-size="15" text-anchor="end">100</text>
<text transform="translate(16.8 632.6) rotate(-90) scale(1 1.04)" font-size="15" text-anchor="middle">PGE2 (pg/mg protein)</text>
<rect x="56.9" y="727.5" width="16.5" height="4.5" fill="#a8a8a8" stroke="#000" stroke-width="1.2"/>
<rect x="78" y="604.1" width="16.8" height="127.9" fill="#000" stroke="#000" stroke-width="1.0"/>
<rect x="99.1" y="719.6" width="17" height="12.4" fill="#f6a200" stroke="#000" stroke-width="1.2"/>
<line x1="86.4" y1="603.6" x2="86.4" y2="596" stroke="#000" stroke-width="1.0" stroke-linecap="butt"/>
<line x1="83.4" y1="596" x2="89.4" y2="596" stroke="#000" stroke-width="1.0" stroke-linecap="butt"/>
<circle cx="86.4" cy="573" r="2.9" fill="#fff" stroke="#000" stroke-width="0.9"/>
<circle cx="80" cy="584" r="2.9" fill="#fff" stroke="#000" stroke-width="0.9"/>
<circle cx="92.4" cy="586.6" r="2.9" fill="#fff" stroke="#000" stroke-width="0.9"/>
<circle cx="86.4" cy="602.6" r="2.9" fill="#fff" stroke="#000" stroke-width="0.9"/>
<circle cx="86.4" cy="610" r="2.9" fill="#fff" stroke="#000" stroke-width="0.9"/>
<circle cx="80" cy="618.6" r="2.9" fill="#fff" stroke="#000" stroke-width="0.9"/>
<circle cx="92.4" cy="621" r="2.9" fill="#fff" stroke="#000" stroke-width="0.9"/>
<circle cx="65.2" cy="717.2" r="2.9" fill="#fff" stroke="#000" stroke-width="0.9"/>
<circle cx="59.4" cy="724.8" r="2.9" fill="#fff" stroke="#000" stroke-width="0.9"/>
<circle cx="67" cy="725" r="2.9" fill="#fff" stroke="#000" stroke-width="0.9"/>
<circle cx="70.8" cy="723.4" r="2.9" fill="#fff" stroke="#000" stroke-width="0.9"/>
<circle cx="62.9" cy="721.6" r="2.9" fill="#fff" stroke="#000" stroke-width="0.9"/>
<circle cx="68.5" cy="720" r="2.9" fill="#fff" stroke="#000" stroke-width="0.9"/>
<circle cx="103.7" cy="712" r="2.9" fill="#fff" stroke="#000" stroke-width="0.9"/>
<circle cx="107.6" cy="712.9" r="2.9" fill="#fff" stroke="#000" stroke-width="0.9"/>
<circle cx="111.1" cy="714.6" r="2.9" fill="#fff" stroke="#000" stroke-width="0.9"/>
<circle cx="101.5" cy="716.4" r="2.9" fill="#fff" stroke="#000" stroke-width="0.9"/>
<circle cx="105.8" cy="714.6" r="2.9" fill="#fff" stroke="#000" stroke-width="0.9"/>
<circle cx="113.7" cy="716.4" r="2.9" fill="#fff" stroke="#000" stroke-width="0.9"/>
<circle cx="108.5" cy="719" r="2.9" fill="#fff" stroke="#000" stroke-width="0.9"/>
<text transform="translate(104.3 541.4) scale(1 1.04)" font-size="15" text-anchor="middle">PLAA</text>
<line x1="84" y1="545" x2="105.6" y2="545" stroke="#000" stroke-width="1.3" stroke-linecap="butt"/>
<polyline points="64,707.6 64,556 108.4,556 108.4,698" fill="none" stroke="#000" stroke-width="1.2" stroke-linejoin="miter"/>
<line x1="85" y1="556" x2="85" y2="563" stroke="#000" stroke-width="1.2" stroke-linecap="butt"/>
<line x1="88" y1="556" x2="88" y2="563" stroke="#000" stroke-width="1.2" stroke-linecap="butt"/>
<text transform="translate(61.8 580.2) rotate(-90) scale(1 1.04)" font-size="12.5" text-anchor="middle">&lt;0.0001</text>
<text transform="translate(122.2 580.2) rotate(-90) scale(1 1.04)" font-size="12.5" text-anchor="middle">&lt;0.0001</text>
<text transform="translate(74.5 738.5) rotate(-45) scale(1 1.04)" font-size="15" text-anchor="end">Veh</text>
<text transform="translate(89 742.5) rotate(-45) scale(1 1.04)" font-size="15" text-anchor="end">–</text>
<text transform="translate(113 738.5) rotate(-45) scale(1 1.04)" font-size="15" text-anchor="end">Indo</text>
<line x1="188.5" y1="546.4" x2="188.5" y2="732.6" stroke="#000" stroke-width="1.2" stroke-linecap="butt"/>
<line x1="185" y1="732" x2="188.5" y2="732" stroke="#000" stroke-width="1.2" stroke-linecap="butt"/>
<text transform="translate(183 736.5) scale(1 1.04)" font-size="15" text-anchor="end">0</text>
<line x1="185" y1="670.33" x2="188.5" y2="670.33" stroke="#000" stroke-width="1.2" stroke-linecap="butt"/>
<text transform="translate(183 674.83) scale(1 1.04)" font-size="15" text-anchor="end">50</text>
<line x1="185" y1="608.67" x2="188.5" y2="608.67" stroke="#000" stroke-width="1.2" stroke-linecap="butt"/>
<text transform="translate(183 613.17) scale(1 1.04)" font-size="15" text-anchor="end">100</text>
<line x1="185" y1="547" x2="188.5" y2="547" stroke="#000" stroke-width="1.2" stroke-linecap="butt"/>
<text transform="translate(183 551.5) scale(1 1.04)" font-size="15" text-anchor="end">150</text>
<text transform="translate(154 633.6) rotate(-90) scale(1 1.04)" font-size="15" text-anchor="middle">PGE2 (pg/mg protein)</text>
<rect x="192.8" y="728.4" width="17.1" height="3.6" fill="#a8a8a8" stroke="#000" stroke-width="1.2"/>
<rect x="213.9" y="650.6" width="17.4" height="81.4" fill="#000" stroke="#000" stroke-width="1.0"/>
<rect x="235.6" y="722.7" width="16" height="9.3" fill="#f6a200" stroke="#000" stroke-width="1.2"/>
<line x1="222.6" y1="650.1" x2="222.6" y2="643" stroke="#000" stroke-width="1.0" stroke-linecap="butt"/>
<line x1="219.6" y1="643" x2="225.6" y2="643" stroke="#000" stroke-width="1.0" stroke-linecap="butt"/>
<circle cx="222.4" cy="605.6" r="2.9" fill="#fff" stroke="#000" stroke-width="0.9"/>
<circle cx="222.4" cy="633" r="2.9" fill="#fff" stroke="#000" stroke-width="0.9"/>
<circle cx="217" cy="647" r="2.9" fill="#fff" stroke="#000" stroke-width="0.9"/>
<circle cx="222.4" cy="652" r="2.9" fill="#fff" stroke="#000" stroke-width="0.9"/>
<circle cx="228" cy="651" r="2.9" fill="#fff" stroke="#000" stroke-width="0.9"/>
<circle cx="218.5" cy="658" r="2.9" fill="#fff" stroke="#000" stroke-width="0.9"/>
<circle cx="226" cy="664" r="2.9" fill="#fff" stroke="#000" stroke-width="0.9"/>
<circle cx="222.4" cy="681.5" r="2.9" fill="#fff" stroke="#000" stroke-width="0.9"/>
<circle cx="197" cy="724" r="2.9" fill="#fff" stroke="#000" stroke-width="0.9"/>
<circle cx="201.5" cy="721" r="2.9" fill="#fff" stroke="#000" stroke-width="0.9"/>
<circle cx="206" cy="723.5" r="2.9" fill="#fff" stroke="#000" stroke-width="0.9"/>
<circle cx="199" cy="727" r="2.9" fill="#fff" stroke="#000" stroke-width="0.9"/>
<circle cx="204" cy="727.5" r="2.9" fill="#fff" stroke="#000" stroke-width="0.9"/>
<circle cx="208" cy="725" r="2.9" fill="#fff" stroke="#000" stroke-width="0.9"/>
<circle cx="240" cy="717" r="2.9" fill="#fff" stroke="#000" stroke-width="0.9"/>
<circle cx="244.5" cy="715.5" r="2.9" fill="#fff" stroke="#000" stroke-width="0.9"/>
<circle cx="248.5" cy="718.5" r="2.9" fill="#fff" stroke="#000" stroke-width="0.9"/>
<circle cx="242" cy="722" r="2.9" fill="#fff" stroke="#000" stroke-width="0.9"/>
<circle cx="246.5" cy="721.5" r="2.9" fill="#fff" stroke="#000" stroke-width="0.9"/>
<circle cx="244" cy="725" r="2.9" fill="#fff" stroke="#000" stroke-width="0.9"/>
<text transform="translate(233 561) scale(1 1.04)" font-size="15" text-anchor="middle">AA</text>
<line x1="221.6" y1="564.4" x2="243.6" y2="564.4" stroke="#000" stroke-width="1.3" stroke-linecap="butt"/>
<polyline points="200,715 200,576 243.6,576 243.6,702" fill="none" stroke="#000" stroke-width="1.2" stroke-linejoin="miter"/>
<line x1="222.4" y1="576" x2="222.4" y2="591" stroke="#000" stroke-width="1.2" stroke-linecap="butt"/>
<line x1="225.6" y1="576" x2="225.6" y2="591" stroke="#000" stroke-width="1.2" stroke-linecap="butt"/>
<text transform="translate(200.1 599.6) rotate(-90) scale(1 1.04)" font-size="12.5" text-anchor="middle">&lt;0.0001</text>
<text transform="translate(255.2 600.5) rotate(-90) scale(1 1.04)" font-size="12.5" text-anchor="middle">&lt;0.0001</text>
<text transform="translate(209.5 740) rotate(-45) scale(1 1.04)" font-size="15" text-anchor="end">Veh</text>
<text transform="translate(225 744) rotate(-45) scale(1 1.04)" font-size="15" text-anchor="end">–</text>
<text transform="translate(250 740) rotate(-45) scale(1 1.04)" font-size="15" text-anchor="end">Indo</text>
<text transform="translate(269 515.5) scale(1 1.04)" font-size="19.5" font-weight="bold">g</text>
<line x1="313.5" y1="545.2" x2="313.5" y2="731.9" stroke="#000" stroke-width="1.2" stroke-linecap="butt"/>
<line x1="308.5" y1="731.3" x2="313.5" y2="731.3" stroke="#000" stroke-width="1.2" stroke-linecap="butt"/>
<text transform="translate(306.5 735.8) scale(1 1.04)" font-size="15" text-anchor="end">0.0</text>
<line x1="308.5" y1="684.92" x2="313.5" y2="684.92" stroke="#000" stroke-width="1.2" stroke-linecap="butt"/>
<text transform="translate(306.5 689.42) scale(1 1.04)" font-size="15" text-anchor="end">0.5</text>
<line x1="308.5" y1="638.55" x2="313.5" y2="638.55" stroke="#000" stroke-width="1.2" stroke-linecap="butt"/>
<text transform="translate(306.5 643.05) scale(1 1.04)" font-size="15" text-anchor="end">1.0</text>
<line x1="308.5" y1="592.17" x2="313.5" y2="592.17" stroke="#000" stroke-width="1.2" stroke-linecap="butt"/>
<text transform="translate(306.5 596.67) scale(1 1.04)" font-size="15" text-anchor="end">1.5</text>
<line x1="308.5" y1="545.8" x2="313.5" y2="545.8" stroke="#000" stroke-width="1.2" stroke-linecap="butt"/>
<text transform="translate(306.5 550.3) scale(1 1.04)" font-size="15" text-anchor="end">2.0</text>
<text transform="translate(279.9 637) rotate(-90) scale(1 1.04)" font-size="15" text-anchor="middle">Threshold (g)</text>
<line x1="312.9" y1="731.5" x2="437" y2="731.5" stroke="#000" stroke-width="1.2" stroke-linecap="butt"/>
<line x1="322.7" y1="731.5" x2="322.7" y2="736" stroke="#000" stroke-width="1.2" stroke-linecap="butt"/>
<line x1="341.1" y1="731.5" x2="341.1" y2="736" stroke="#000" stroke-width="1.2" stroke-linecap="butt"/>
<line x1="359.5" y1="731.5" x2="359.5" y2="736" stroke="#000" stroke-width="1.2" stroke-linecap="butt"/>
<line x1="375.8" y1="731.5" x2="375.8" y2="736" stroke="#000" stroke-width="1.2" stroke-linecap="butt"/>
<line x1="393.2" y1="731.5" x2="393.2" y2="736" stroke="#000" stroke-width="1.2" stroke-linecap="butt"/>
<line x1="410.4" y1="731.5" x2="410.4" y2="736" stroke="#000" stroke-width="1.2" stroke-linecap="butt"/>
<line x1="427.9" y1="731.5" x2="427.9" y2="736" stroke="#000" stroke-width="1.2" stroke-linecap="butt"/>
<text transform="translate(319 750.3) scale(1 1.04)" font-size="15" text-anchor="middle">BL</text>
<text transform="translate(342.8 750.3) scale(1 1.04)" font-size="15" text-anchor="middle">0.5</text>
<text transform="translate(359.2 750.3) scale(1 1.04)" font-size="15" text-anchor="middle">1</text>
<text transform="translate(376.6 750.3) scale(1 1.04)" font-size="15" text-anchor="middle">2</text>
<text transform="translate(394.2 750.3) scale(1 1.04)" font-size="15" text-anchor="middle">4</text>
<text transform="translate(411.4 750.3) scale(1 1.04)" font-size="15" text-anchor="middle">6</text>
<text transform="translate(427.9 750.3) scale(1 1.04)" font-size="15" text-anchor="middle">24</text>
<text transform="translate(412.2 768.7) scale(1 1.04)" font-size="15" text-anchor="middle">Time (h)</text>
<line x1="328.9" y1="719" x2="328.9" y2="728" stroke="#000" stroke-width="1.2" stroke-linecap="butt"/>
<polyline points="326.1,724.5 328.9,729 331.7,724.5" fill="none" stroke="#000" stroke-width="1.2" stroke-linejoin="miter"/>
<text transform="translate(355.8 727.6) scale(1 1.04)" font-size="15">AAV-<tspan font-style="italic">Ptger2</tspan></text>
<text transform="translate(332.7 516.4) scale(1 1.04)" font-size="15"><tspan>Control/</tspan><tspan fill="#3a8fd5">Veh</tspan><tspan>/</tspan><tspan font-weight="bold">Veh</tspan></text>
<line x1="314.5" y1="524.4" x2="330.4" y2="524.4" stroke="#333" stroke-width="1.3" stroke-linecap="butt"/>
<circle cx="322.45" cy="524.4" r="2.9" fill="#707070"/>
<text transform="translate(332.7 529.2) scale(1 1.04)" font-size="15"><tspan font-style="italic">Plp-Ptger2</tspan><tspan>/</tspan><tspan fill="#3a8fd5">Veh</tspan><tspan>/</tspan><tspan font-weight="bold">Veh</tspan></text>
<line x1="314.5" y1="537.2" x2="330.4" y2="537.2" stroke="#333" stroke-width="1.3" stroke-linecap="butt"/>
<circle cx="322.45" cy="537.2" r="2.9" fill="#f6a200"/>
<text transform="translate(332.7 542) scale(1 1.04)" font-size="15"><tspan>Control/</tspan><tspan fill="#3a8fd5">Veh</tspan><tspan>/</tspan><tspan font-weight="bold">PLAA</tspan></text>
<line x1="314.5" y1="549.8" x2="330.4" y2="549.8" stroke="#333" stroke-width="1.3" stroke-linecap="butt"/>
<circle cx="322.45" cy="549.8" r="2.9" fill="#e30a17"/>
<text transform="translate(332.7 554.6) scale(1 1.04)" font-size="15"><tspan font-style="italic">Plp-Ptger2</tspan><tspan>/</tspan><tspan fill="#3a8fd5">Veh</tspan><tspan>/</tspan><tspan font-weight="bold">PLAA</tspan></text>
<line x1="314.5" y1="562.4" x2="330.4" y2="562.4" stroke="#333" stroke-width="1.3" stroke-linecap="butt"/>
<circle cx="322.45" cy="562.4" r="2.9" fill="#952f74"/>
<text transform="translate(332.7 567.2) scale(1 1.04)" font-size="15"><tspan>Control/</tspan><tspan fill="#3a8fd5">Indo</tspan><tspan>/</tspan><tspan font-weight="bold">PLAA</tspan></text>
<line x1="314.5" y1="575.2" x2="330.4" y2="575.2" stroke="#333" stroke-width="1.3" stroke-linecap="butt"/>
<circle cx="322.45" cy="575.2" r="2.9" fill="#1a14e8"/>
<text transform="translate(332.7 580) scale(1 1.04)" font-size="15"><tspan font-style="italic">Plp-Ptger2</tspan><tspan>/</tspan><tspan fill="#3a8fd5">Indo</tspan><tspan>/</tspan><tspan font-weight="bold">PLAA</tspan></text>
<polyline points="320.4,595.5 338.4,599 356.2,596.6 374,597.2 391.6,600.2 409.3,591.5 427.1,588.8" fill="none" stroke="#707070" stroke-width="1.3" stroke-linejoin="round"/>
<line x1="320.4" y1="595.5" x2="320.4" y2="591.5" stroke="#333" stroke-width="1.0" stroke-linecap="butt"/>
<line x1="317.6" y1="591.5" x2="323.2" y2="591.5" stroke="#333" stroke-width="1.0" stroke-linecap="butt"/>
<line x1="338.4" y1="599" x2="338.4" y2="594" stroke="#333" stroke-width="1.0" stroke-linecap="butt"/>
<line x1="335.6" y1="594" x2="341.2" y2="594" stroke="#333" stroke-width="1.0" stroke-linecap="butt"/>
<line x1="356.2" y1="596.6" x2="356.2" y2="591.6" stroke="#333" stroke-width="1.0" stroke-linecap="butt"/>
<line x1="353.4" y1="591.6" x2="359" y2="591.6" stroke="#333" stroke-width="1.0" stroke-linecap="butt"/>
<line x1="374" y1="597.2" x2="374" y2="593.2" stroke="#333" stroke-width="1.0" stroke-linecap="butt"/>
<line x1="371.2" y1="593.2" x2="376.8" y2="593.2" stroke="#333" stroke-width="1.0" stroke-linecap="butt"/>
<line x1="391.6" y1="600.2" x2="391.6" y2="596.2" stroke="#333" stroke-width="1.0" stroke-linecap="butt"/>
<line x1="388.8" y1="596.2" x2="394.4" y2="596.2" stroke="#333" stroke-width="1.0" stroke-linecap="butt"/>
<line x1="427.1" y1="588.8" x2="427.1" y2="584.8" stroke="#333" stroke-width="1.0" stroke-linecap="butt"/>
<line x1="424.3" y1="584.8" x2="429.9" y2="584.8" stroke="#333" stroke-width="1.0" stroke-linecap="butt"/>
<circle cx="320.4" cy="595.5" r="3.2" fill="#707070"/>
<circle cx="338.4" cy="599" r="3.2" fill="#707070"/>
<circle cx="356.2" cy="596.6" r="3.2" fill="#707070"/>
<circle cx="374" cy="597.2" r="3.2" fill="#707070"/>
<circle cx="391.6" cy="600.2" r="3.2" fill="#707070"/>
<circle cx="409.3" cy="591.5" r="3.2" fill="#707070"/>
<circle cx="427.1" cy="588.8" r="3.2" fill="#707070"/>
<polyline points="320.4,590.4 338.4,590.4 356.2,602.3 374,598 391.6,601.7 409.3,591.5 427.1,589.4" fill="none" stroke="#b3b3b3" stroke-width="1.3" stroke-linejoin="round"/>
<line x1="391.6" y1="601.7" x2="391.6" y2="595.7" stroke="#555" stroke-width="1.0" stroke-linecap="butt"/>
<line x1="388.8" y1="595.7" x2="394.4" y2="595.7" stroke="#555" stroke-width="1.0" stroke-linecap="butt"/>
<circle cx="320.4" cy="590.4" r="3.2" fill="#b3b3b3"/>
<circle cx="338.4" cy="590.4" r="3.2" fill="#b3b3b3"/>
<circle cx="356.2" cy="602.3" r="3.2" fill="#b3b3b3"/>
<circle cx="374" cy="598" r="3.2" fill="#b3b3b3"/>
<circle cx="391.6" cy="601.7" r="3.2" fill="#b3b3b3"/>
<circle cx="409.3" cy="591.5" r="3.2" fill="#b3b3b3"/>
<circle cx="427.1" cy="589.4" r="3.2" fill="#b3b3b3"/>
<polyline points="320.4,599.6 338.4,622.7 356.2,655.8 374,664.4 391.6,658.9 409.3,620 427.1,594.1" fill="none" stroke="#f6a200" stroke-width="1.3" stroke-linejoin="round"/>
<line x1="374" y1="664.4" x2="374" y2="660.4" stroke="#555" stroke-width="1.0" stroke-linecap="butt"/>
<line x1="371.2" y1="660.4" x2="376.8" y2="660.4" stroke="#555" stroke-width="1.0" stroke-linecap="butt"/>
<line x1="391.6" y1="658.9" x2="391.6" y2="654.9" stroke="#555" stroke-width="1.0" stroke-linecap="butt"/>
<line x1="388.8" y1="654.9" x2="394.4" y2="654.9" stroke="#555" stroke-width="1.0" stroke-linecap="butt"/>
<circle cx="320.4" cy="599.6" r="3.2" fill="#f6a200"/>
<circle cx="338.4" cy="622.7" r="3.2" fill="#f6a200"/>
<circle cx="356.2" cy="655.8" r="3.2" fill="#f6a200"/>
<circle cx="374" cy="664.4" r="3.2" fill="#f6a200"/>
<circle cx="391.6" cy="658.9" r="3.2" fill="#f6a200"/>
<circle cx="409.3" cy="620" r="3.2" fill="#f6a200"/>
<circle cx="427.1" cy="594.1" r="3.2" fill="#f6a200"/>
<polyline points="320.4,590.4 338.4,621.1 356.2,618.4 374,620.7 391.6,622.1 409.3,613.9 427.1,595" fill="none" stroke="#952f74" stroke-width="1.3" stroke-linejoin="round"/>
<line x1="320.4" y1="590.4" x2="320.4" y2="585.4" stroke="#333" stroke-width="1.0" stroke-linecap="butt"/>
<line x1="317.6" y1="585.4" x2="323.2" y2="585.4" stroke="#333" stroke-width="1.0" stroke-linecap="butt"/>
<line x1="338.4" y1="621.1" x2="338.4" y2="613.1" stroke="#333" stroke-width="1.0" stroke-linecap="butt"/>
<line x1="335.6" y1="613.1" x2="341.2" y2="613.1" stroke="#333" stroke-width="1.0" stroke-linecap="butt"/>
<line x1="356.2" y1="618.4" x2="356.2" y2="608.4" stroke="#333" stroke-width="1.0" stroke-linecap="butt"/>
<line x1="353.4" y1="608.4" x2="359" y2="608.4" stroke="#333" stroke-width="1.0" stroke-linecap="butt"/>
<line x1="374" y1="620.7" x2="374" y2="611.7" stroke="#333" stroke-width="1.0" stroke-linecap="butt"/>
<line x1="371.2" y1="611.7" x2="376.8" y2="611.7" stroke="#333" stroke-width="1.0" stroke-linecap="butt"/>
<line x1="391.6" y1="622.1" x2="391.6" y2="614.1" stroke="#333" stroke-width="1.0" stroke-linecap="butt"/>
<line x1="388.8" y1="614.1" x2="394.4" y2="614.1" stroke="#333" stroke-width="1.0" stroke-linecap="butt"/>
<line x1="409.3" y1="613.9" x2="409.3" y2="609.9" stroke="#333" stroke-width="1.0" stroke-linecap="butt"/>
<line x1="406.5" y1="609.9" x2="412.1" y2="609.9" stroke="#333" stroke-width="1.0" stroke-linecap="butt"/>
<line x1="427.1" y1="595" x2="427.1" y2="591" stroke="#333" stroke-width="1.0" stroke-linecap="butt"/>
<line x1="424.3" y1="591" x2="429.9" y2="591" stroke="#333" stroke-width="1.0" stroke-linecap="butt"/>
<circle cx="320.4" cy="590.4" r="3.2" fill="#952f74"/>
<circle cx="338.4" cy="621.1" r="3.2" fill="#952f74"/>
<circle cx="356.2" cy="618.4" r="3.2" fill="#952f74"/>
<circle cx="374" cy="620.7" r="3.2" fill="#952f74"/>
<circle cx="391.6" cy="622.1" r="3.2" fill="#952f74"/>
<circle cx="409.3" cy="613.9" r="3.2" fill="#952f74"/>
<circle cx="427.1" cy="595" r="3.2" fill="#952f74"/>
<polyline points="320.4,590.4 338.4,613.5 356.2,627.2 374,628.7 391.6,624.8 409.3,607.8 427.1,592.9" fill="none" stroke="#e30a17" stroke-width="1.3" stroke-linejoin="round"/>
<circle cx="320.4" cy="590.4" r="3.2" fill="#e30a17"/>
<circle cx="338.4" cy="613.5" r="3.2" fill="#e30a17"/>
<circle cx="356.2" cy="627.2" r="3.2" fill="#e30a17"/>
<circle cx="374" cy="628.7" r="3.2" fill="#e30a17"/>
<circle cx="391.6" cy="624.8" r="3.2" fill="#e30a17"/>
<circle cx="409.3" cy="607.8" r="3.2" fill="#e30a17"/>
<circle cx="427.1" cy="592.9" r="3.2" fill="#e30a17"/>
<polyline points="320.4,595 338.4,619 356.2,620.7 374,620 391.6,618.6 409.3,618 427.1,599.6" fill="none" stroke="#1a14e8" stroke-width="1.3" stroke-linejoin="round"/>
<circle cx="320.4" cy="595" r="3.2" fill="#1a14e8"/>
<circle cx="338.4" cy="619" r="3.2" fill="#1a14e8"/>
<circle cx="356.2" cy="620.7" r="3.2" fill="#1a14e8"/>
<circle cx="374" cy="620" r="3.2" fill="#1a14e8"/>
<circle cx="391.6" cy="618.6" r="3.2" fill="#1a14e8"/>
<circle cx="409.3" cy="618" r="3.2" fill="#1a14e8"/>
<circle cx="427.1" cy="599.6" r="3.2" fill="#1a14e8"/>
<text transform="translate(335.8 642.2) scale(1 1.04)" font-size="11" text-anchor="middle">****</text>
<text transform="translate(352.1 671.4) scale(1 1.04)" font-size="11" text-anchor="middle">****</text>
<text transform="translate(372.6 679.6) scale(1 1.04)" font-size="11" text-anchor="middle">****</text>
<text transform="translate(395 672.4) scale(1 1.04)" font-size="11" text-anchor="middle">****</text>
<text transform="translate(411.4 634) scale(1 1.04)" font-size="11" text-anchor="middle">***</text>
<text transform="translate(357.2 637.2) scale(1 1.04)" font-size="8.4" text-anchor="middle" font-weight="bold">†††</text>
<text transform="translate(375.6 638.6) scale(1 1.04)" font-size="8.4" text-anchor="middle" font-weight="bold">††††</text>
<text transform="translate(393 633.9) scale(1 1.04)" font-size="8.4" text-anchor="middle" font-weight="bold">††††</text>
<text transform="translate(488 514.5) scale(1 1.04)" font-size="19.5" font-weight="bold">h</text>
<line x1="531.5" y1="545.2" x2="531.5" y2="731.9" stroke="#000" stroke-width="1.2" stroke-linecap="butt"/>
<line x1="526.5" y1="731.3" x2="531.5" y2="731.3" stroke="#000" stroke-width="1.2" stroke-linecap="butt"/>
<text transform="translate(524.5 735.8) scale(1 1.04)" font-size="15" text-anchor="end">0.0</text>
<line x1="526.5" y1="684.92" x2="531.5" y2="684.92" stroke="#000" stroke-width="1.2" stroke-linecap="butt"/>
<text transform="translate(524.5 689.42) scale(1 1.04)" font-size="15" text-anchor="end">0.5</text>
<line x1="526.5" y1="638.55" x2="531.5" y2="638.55" stroke="#000" stroke-width="1.2" stroke-linecap="butt"/>
<text transform="translate(524.5 643.05) scale(1 1.04)" font-size="15" text-anchor="end">1.0</text>
<line x1="526.5" y1="592.17" x2="531.5" y2="592.17" stroke="#000" stroke-width="1.2" stroke-linecap="butt"/>
<text transform="translate(524.5 596.67) scale(1 1.04)" font-size="15" text-anchor="end">1.5</text>
<line x1="526.5" y1="545.8" x2="531.5" y2="545.8" stroke="#000" stroke-width="1.2" stroke-linecap="butt"/>
<text transform="translate(524.5 550.3) scale(1 1.04)" font-size="15" text-anchor="end">2.0</text>
<text transform="translate(499 637.8) rotate(-90) scale(1 1.04)" font-size="15" text-anchor="middle">Threshold (g)</text>
<line x1="530.9" y1="731.5" x2="655.3" y2="731.5" stroke="#000" stroke-width="1.2" stroke-linecap="butt"/>
<line x1="540.9" y1="731.5" x2="540.9" y2="736" stroke="#000" stroke-width="1.2" stroke-linecap="butt"/>
<line x1="561.8" y1="731.5" x2="561.8" y2="736" stroke="#000" stroke-width="1.2" stroke-linecap="butt"/>
<line x1="582.9" y1="731.5" x2="582.9" y2="736" stroke="#000" stroke-width="1.2" stroke-linecap="butt"/>
<line x1="603.1" y1="731.5" x2="603.1" y2="736" stroke="#000" stroke-width="1.2" stroke-linecap="butt"/>
<line x1="624.3" y1="731.5" x2="624.3" y2="736" stroke="#000" stroke-width="1.2" stroke-linecap="butt"/>
<line x1="645.8" y1="731.5" x2="645.8" y2="736" stroke="#000" stroke-width="1.2" stroke-linecap="butt"/>
<text transform="translate(538.3 750.3) scale(1 1.04)" font-size="15" text-anchor="middle">BL</text>
<text transform="translate(563.9 750.3) scale(1 1.04)" font-size="15" text-anchor="middle">0.5</text>
<text transform="translate(582.6 750.3) scale(1 1.04)" font-size="15" text-anchor="middle">1</text>
<text transform="translate(603.6 750.3) scale(1 1.04)" font-size="15" text-anchor="middle">2</text>
<text transform="translate(624.9 750.3) scale(1 1.04)" font-size="15" text-anchor="middle">4</text>
<text transform="translate(645.2 750.3) scale(1 1.04)" font-size="15" text-anchor="middle">6</text>
<text transform="translate(631 769.6) scale(1 1.04)" font-size="15" text-anchor="middle">Time (h)</text>
<line x1="546.2" y1="719" x2="546.2" y2="728" stroke="#000" stroke-width="1.2" stroke-linecap="butt"/>
<polyline points="543.4,724.5 546.2,729 549,724.5" fill="none" stroke="#000" stroke-width="1.2" stroke-linejoin="miter"/>
<text transform="translate(573.7 726.8) scale(1 1.04)" font-size="15">AAV-<tspan font-style="italic">Ptger2</tspan></text>
<line x1="533.2" y1="511.6" x2="550.1" y2="511.6" stroke="#333" stroke-width="1.3" stroke-linecap="butt"/>
<circle cx="541.65" cy="511.6" r="2.9" fill="#b3b3b3"/>
<text transform="translate(551.6 516.4) scale(1 1.04)" font-size="15"><tspan>Control/</tspan><tspan fill="#3a8fd5">Veh</tspan><tspan>/</tspan><tspan font-weight="bold">Veh</tspan></text>
<line x1="533.2" y1="524.4" x2="550.1" y2="524.4" stroke="#333" stroke-width="1.3" stroke-linecap="butt"/>
<circle cx="541.65" cy="524.4" r="2.9" fill="#707070"/>
<text transform="translate(551.6 529.2) scale(1 1.04)" font-size="15"><tspan font-style="italic">Plp-Ptger2</tspan><tspan>/</tspan><tspan fill="#3a8fd5">Veh</tspan><tspan>/</tspan><tspan font-weight="bold">Veh</tspan></text>
<line x1="533.2" y1="537.2" x2="550.1" y2="537.2" stroke="#333" stroke-width="1.3" stroke-linecap="butt"/>
<circle cx="541.65" cy="537.2" r="2.9" fill="#f6a200"/>
<text transform="translate(551.6 542) scale(1 1.04)" font-size="15"><tspan>Control/</tspan><tspan fill="#3a8fd5">Veh</tspan><tspan>/</tspan><tspan font-weight="bold">AA</tspan></text>
<line x1="533.2" y1="549.8" x2="550.1" y2="549.8" stroke="#333" stroke-width="1.3" stroke-linecap="butt"/>
<circle cx="541.65" cy="549.8" r="2.9" fill="#e30a17"/>
<text transform="translate(551.6 554.6) scale(1 1.04)" font-size="15"><tspan font-style="italic">Plp-Ptger2</tspan><tspan>/</tspan><tspan fill="#3a8fd5">Veh</tspan><tspan>/</tspan><tspan font-weight="bold">AA</tspan></text>
<line x1="533.2" y1="562.4" x2="550.1" y2="562.4" stroke="#333" stroke-width="1.3" stroke-linecap="butt"/>
<circle cx="541.65" cy="562.4" r="2.9" fill="#952f74"/>
<text transform="translate(551.6 567.2) scale(1 1.04)" font-size="15"><tspan>Control/</tspan><tspan fill="#3a8fd5">Indo</tspan><tspan>/</tspan><tspan font-weight="bold">AA</tspan></text>
<line x1="533.2" y1="575.2" x2="550.1" y2="575.2" stroke="#333" stroke-width="1.3" stroke-linecap="butt"/>
<circle cx="541.65" cy="575.2" r="2.9" fill="#1a14e8"/>
<text transform="translate(551.6 580) scale(1 1.04)" font-size="15"><tspan font-style="italic">Plp-Ptger2</tspan><tspan>/</tspan><tspan fill="#3a8fd5">Indo</tspan><tspan>/</tspan><tspan font-weight="bold">AA</tspan></text>
<polyline points="540.9,594.2 562.4,593.3 582.9,597.3 603.1,594.2 624.3,596.7 644.2,597.9" fill="none" stroke="#707070" stroke-width="1.3" stroke-linejoin="round"/>
<line x1="582.9" y1="597.3" x2="582.9" y2="593.3" stroke="#333" stroke-width="1.0" stroke-linecap="butt"/>
<line x1="580.1" y1="593.3" x2="585.7" y2="593.3" stroke="#333" stroke-width="1.0" stroke-linecap="butt"/>
<line x1="603.1" y1="594.2" x2="603.1" y2="590.2" stroke="#333" stroke-width="1.0" stroke-linecap="butt"/>
<line x1="600.3" y1="590.2" x2="605.9" y2="590.2" stroke="#333" stroke-width="1.0" stroke-linecap="butt"/>
<line x1="624.3" y1="596.7" x2="624.3" y2="591.7" stroke="#333" stroke-width="1.0" stroke-linecap="butt"/>
<line x1="621.5" y1="591.7" x2="627.1" y2="591.7" stroke="#333" stroke-width="1.0" stroke-linecap="butt"/>
<circle cx="540.9" cy="594.2" r="3.2" fill="#707070"/>
<circle cx="562.4" cy="593.3" r="3.2" fill="#707070"/>
<circle cx="582.9" cy="597.3" r="3.2" fill="#707070"/>
<circle cx="603.1" cy="594.2" r="3.2" fill="#707070"/>
<circle cx="624.3" cy="596.7" r="3.2" fill="#707070"/>
<circle cx="644.2" cy="597.9" r="3.2" fill="#707070"/>
<polyline points="540.9,592.7 562.4,592.7 582.9,597.3 603.1,597.3 624.3,603.4 644.2,592.7" fill="none" stroke="#b3b3b3" stroke-width="1.3" stroke-linejoin="round"/>
<line x1="644.2" y1="592.7" x2="644.2" y2="588.7" stroke="#555" stroke-width="1.0" stroke-linecap="butt"/>
<line x1="641.4" y1="588.7" x2="647" y2="588.7" stroke="#555" stroke-width="1.0" stroke-linecap="butt"/>
<circle cx="540.9" cy="592.7" r="3.2" fill="#b3b3b3"/>
<circle cx="562.4" cy="592.7" r="3.2" fill="#b3b3b3"/>
<circle cx="582.9" cy="597.3" r="3.2" fill="#b3b3b3"/>
<circle cx="603.1" cy="597.3" r="3.2" fill="#b3b3b3"/>
<circle cx="624.3" cy="603.4" r="3.2" fill="#b3b3b3"/>
<circle cx="644.2" cy="592.7" r="3.2" fill="#b3b3b3"/>
<polyline points="540.9,595.8 562.4,612.6 582.9,645.4 603.1,663.8 624.3,645.7 644.2,608.9" fill="none" stroke="#f6a200" stroke-width="1.3" stroke-linejoin="round"/>
<line x1="582.9" y1="645.4" x2="582.9" y2="640.4" stroke="#555" stroke-width="1.0" stroke-linecap="butt"/>
<line x1="580.1" y1="640.4" x2="585.7" y2="640.4" stroke="#555" stroke-width="1.0" stroke-linecap="butt"/>
<line x1="603.1" y1="663.8" x2="603.1" y2="657.8" stroke="#555" stroke-width="1.0" stroke-linecap="butt"/>
<line x1="600.3" y1="657.8" x2="605.9" y2="657.8" stroke="#555" stroke-width="1.0" stroke-linecap="butt"/>
<line x1="624.3" y1="645.7" x2="624.3" y2="640.7" stroke="#555" stroke-width="1.0" stroke-linecap="butt"/>
<line x1="621.5" y1="640.7" x2="627.1" y2="640.7" stroke="#555" stroke-width="1.0" stroke-linecap="butt"/>
<line x1="644.2" y1="608.9" x2="644.2" y2="604.9" stroke="#555" stroke-width="1.0" stroke-linecap="butt"/>
<line x1="641.4" y1="604.9" x2="647" y2="604.9" stroke="#555" stroke-width="1.0" stroke-linecap="butt"/>
<circle cx="540.9" cy="595.8" r="3.2" fill="#f6a200"/>
<circle cx="562.4" cy="612.6" r="3.2" fill="#f6a200"/>
<circle cx="582.9" cy="645.4" r="3.2" fill="#f6a200"/>
<circle cx="603.1" cy="663.8" r="3.2" fill="#f6a200"/>
<circle cx="624.3" cy="645.7" r="3.2" fill="#f6a200"/>
<circle cx="644.2" cy="608.9" r="3.2" fill="#f6a200"/>
<polyline points="540.9,591.8 562.4,616.6 582.9,622.4 603.1,624 624.3,618.1 644.2,598.8" fill="none" stroke="#952f74" stroke-width="1.3" stroke-linejoin="round"/>
<line x1="540.9" y1="591.8" x2="540.9" y2="587.8" stroke="#333" stroke-width="1.0" stroke-linecap="butt"/>
<line x1="538.1" y1="587.8" x2="543.7" y2="587.8" stroke="#333" stroke-width="1.0" stroke-linecap="butt"/>
<circle cx="540.9" cy="591.8" r="3.2" fill="#952f74"/>
<circle cx="562.4" cy="616.6" r="3.2" fill="#952f74"/>
<circle cx="582.9" cy="622.4" r="3.2" fill="#952f74"/>
<circle cx="603.1" cy="624" r="3.2" fill="#952f74"/>
<circle cx="624.3" cy="618.1" r="3.2" fill="#952f74"/>
<circle cx="644.2" cy="598.8" r="3.2" fill="#952f74"/>
<polyline points="540.9,595.2 562.4,612 582.9,621.2 603.1,621.2 624.3,610.5 644.2,599.7" fill="none" stroke="#e30a17" stroke-width="1.3" stroke-linejoin="round"/>
<line x1="562.4" y1="612" x2="562.4" y2="606" stroke="#333" stroke-width="1.0" stroke-linecap="butt"/>
<line x1="559.6" y1="606" x2="565.2" y2="606" stroke="#333" stroke-width="1.0" stroke-linecap="butt"/>
<line x1="582.9" y1="621.2" x2="582.9" y2="615.2" stroke="#333" stroke-width="1.0" stroke-linecap="butt"/>
<line x1="580.1" y1="615.2" x2="585.7" y2="615.2" stroke="#333" stroke-width="1.0" stroke-linecap="butt"/>
<line x1="603.1" y1="621.2" x2="603.1" y2="615.2" stroke="#333" stroke-width="1.0" stroke-linecap="butt"/>
<line x1="600.3" y1="615.2" x2="605.9" y2="615.2" stroke="#333" stroke-width="1.0" stroke-linecap="butt"/>
<circle cx="540.9" cy="595.2" r="3.2" fill="#e30a17"/>
<circle cx="562.4" cy="612" r="3.2" fill="#e30a17"/>
<circle cx="582.9" cy="621.2" r="3.2" fill="#e30a17"/>
<circle cx="603.1" cy="621.2" r="3.2" fill="#e30a17"/>
<circle cx="624.3" cy="610.5" r="3.2" fill="#e30a17"/>
<circle cx="644.2" cy="599.7" r="3.2" fill="#e30a17"/>
<polyline points="540.9,599.7 562.4,607.4 582.9,618.1 603.1,618.1 624.3,624 644.2,597.9" fill="none" stroke="#1a14e8" stroke-width="1.3" stroke-linejoin="round"/>
<line x1="562.4" y1="607.4" x2="562.4" y2="602.4" stroke="#333" stroke-width="1.0" stroke-linecap="butt"/>
<line x1="559.6" y1="602.4" x2="565.2" y2="602.4" stroke="#333" stroke-width="1.0" stroke-linecap="butt"/>
<line x1="644.2" y1="597.9" x2="644.2" y2="593.9" stroke="#333" stroke-width="1.0" stroke-linecap="butt"/>
<line x1="641.4" y1="593.9" x2="647" y2="593.9" stroke="#333" stroke-width="1.0" stroke-linecap="butt"/>
<circle cx="540.9" cy="599.7" r="3.2" fill="#1a14e8"/>
<circle cx="562.4" cy="607.4" r="3.2" fill="#1a14e8"/>
<circle cx="582.9" cy="618.1" r="3.2" fill="#1a14e8"/>
<circle cx="603.1" cy="618.1" r="3.2" fill="#1a14e8"/>
<circle cx="624.3" cy="624" r="3.2" fill="#1a14e8"/>
<circle cx="644.2" cy="597.9" r="3.2" fill="#1a14e8"/>
<text transform="translate(582.3 661.9) scale(1 1.04)" font-size="11" text-anchor="middle">****</text>
<text transform="translate(603.8 678.8) scale(1 1.04)" font-size="11" text-anchor="middle">****</text>
<text transform="translate(626.1 662.6) scale(1 1.04)" font-size="11" text-anchor="middle">****</text>
<text transform="translate(582.9 630.2) scale(1 1.04)" font-size="8.4" text-anchor="middle" font-weight="bold">††</text>
<text transform="translate(604.4 631.7) scale(1 1.04)" font-size="8.4" text-anchor="middle" font-weight="bold">††††</text>
<text transform="translate(634.4 618.5) scale(1 1.04)" font-size="8.4" text-anchor="middle" font-weight="bold">†††</text>
<text transform="translate(31 794.8) scale(1 1.04)" font-size="19.5" font-weight="bold">i</text>
<line x1="70.5" y1="830.6" x2="70.5" y2="1017.8" stroke="#000" stroke-width="1.2" stroke-linecap="butt"/>
<line x1="65.5" y1="1017.2" x2="70.5" y2="1017.2" stroke="#000" stroke-width="1.2" stroke-linecap="butt"/>
<text transform="translate(63.5 1021.7) scale(1 1.04)" font-size="15" text-anchor="end">0.0</text>
<line x1="65.5" y1="970.7" x2="70.5" y2="970.7" stroke="#000" stroke-width="1.2" stroke-linecap="butt"/>
<text transform="translate(63.5 975.2) scale(1 1.04)" font-size="15" text-anchor="end">0.5</text>
<line x1="65.5" y1="924.2" x2="70.5" y2="924.2" stroke="#000" stroke-width="1.2" stroke-linecap="butt"/>
<text transform="translate(63.5 928.7) scale(1 1.04)" font-size="15" text-anchor="end">1.0</text>
<line x1="65.5" y1="877.7" x2="70.5" y2="877.7" stroke="#000" stroke-width="1.2" stroke-linecap="butt"/>
<text transform="translate(63.5 882.2) scale(1 1.04)" font-size="15" text-anchor="end">1.5</text>
<line x1="65.5" y1="831.2" x2="70.5" y2="831.2" stroke="#000" stroke-width="1.2" stroke-linecap="butt"/>
<text transform="translate(63.5 835.7) scale(1 1.04)" font-size="15" text-anchor="end">2.0</text>
<text transform="translate(39.2 923.7) rotate(-90) scale(1 1.04)" font-size="15" text-anchor="middle">Threshold (g)</text>
<line x1="69.9" y1="1017.5" x2="194.8" y2="1017.5" stroke="#000" stroke-width="1.2" stroke-linecap="butt"/>
<line x1="80.6" y1="1017.5" x2="80.6" y2="1022" stroke="#000" stroke-width="1.2" stroke-linecap="butt"/>
<line x1="107.5" y1="1017.5" x2="107.5" y2="1022" stroke="#000" stroke-width="1.2" stroke-linecap="butt"/>
<line x1="132" y1="1017.5" x2="132" y2="1022" stroke="#000" stroke-width="1.2" stroke-linecap="butt"/>
<line x1="157.2" y1="1017.5" x2="157.2" y2="1022" stroke="#000" stroke-width="1.2" stroke-linecap="butt"/>
<line x1="181.3" y1="1017.5" x2="181.3" y2="1022" stroke="#000" stroke-width="1.2" stroke-linecap="butt"/>
<text transform="translate(79.3 1035) scale(1 1.04)" font-size="15" text-anchor="middle">BL</text>
<text transform="translate(106.5 1035) scale(1 1.04)" font-size="15" text-anchor="middle">1</text>
<text transform="translate(132.5 1035) scale(1 1.04)" font-size="15" text-anchor="middle">3</text>
<text transform="translate(157.5 1035) scale(1 1.04)" font-size="15" text-anchor="middle">6</text>
<text transform="translate(181.3 1035) scale(1 1.04)" font-size="15" text-anchor="middle">24</text>
<text transform="translate(160.5 1050.1) scale(1 1.04)" font-size="15" text-anchor="middle">Time (h)</text>
<line x1="86.6" y1="1004.8" x2="86.6" y2="1014" stroke="#e30a17" stroke-width="1.2" stroke-linecap="butt"/>
<polyline points="83.8,1010.5 86.6,1015 89.4,1010.5" fill="none" stroke="#e30a17" stroke-width="1.2" stroke-linejoin="miter"/>
<line x1="98" y1="1004.8" x2="98" y2="1014" stroke="#000" stroke-width="1.2" stroke-linecap="butt"/>
<polyline points="95.2,1010.5 98,1015 100.8,1010.5" fill="none" stroke="#000" stroke-width="1.2" stroke-linejoin="miter"/>
<text transform="translate(110.8 1013.2) scale(1 1.04)" font-size="15">AAV-<tspan font-style="italic">Ptger2</tspan></text>
<line x1="50" y1="790.5" x2="67" y2="790.5" stroke="#333" stroke-width="1.3" stroke-linecap="butt"/>
<circle cx="58.5" cy="790.5" r="2.9" fill="#b3b3b3"/>
<text transform="translate(68.4 795.3) scale(1 1.04)" font-size="15"><tspan>Control/</tspan><tspan fill="#3a8fd5">Veh</tspan><tspan>/</tspan><tspan font-weight="bold">Veh</tspan></text>
<line x1="50" y1="803.2" x2="67" y2="803.2" stroke="#333" stroke-width="1.3" stroke-linecap="butt"/>
<circle cx="58.5" cy="803.2" r="2.9" fill="#707070"/>
<text transform="translate(68.4 808) scale(1 1.04)" font-size="15"><tspan font-style="italic">Plp-Ptger2</tspan><tspan>/</tspan><tspan fill="#3a8fd5">Veh</tspan><tspan>/</tspan><tspan font-weight="bold">Veh</tspan></text>
<line x1="50" y1="815.9" x2="67" y2="815.9" stroke="#333" stroke-width="1.3" stroke-linecap="butt"/>
<circle cx="58.5" cy="815.9" r="2.9" fill="#f6a200"/>
<text transform="translate(68.4 820.7) scale(1 1.04)" font-size="15"><tspan>Control/</tspan><tspan fill="#3a8fd5">Veh</tspan><tspan>/</tspan><tspan font-weight="bold">Cg</tspan></text>
<polyline points="82.3,886.6 107.5,880.9 132,883.6 156.6,877.5 181.3,879.9" fill="none" stroke="#b3b3b3" stroke-width="1.3" stroke-linejoin="round"/>
<line x1="82.3" y1="886.6" x2="82.3" y2="882.6" stroke="#555" stroke-width="1.0" stroke-linecap="butt"/>
<line x1="79.5" y1="882.6" x2="85.1" y2="882.6" stroke="#555" stroke-width="1.0" stroke-linecap="butt"/>
<line x1="107.5" y1="880.9" x2="107.5" y2="876.9" stroke="#555" stroke-width="1.0" stroke-linecap="butt"/>
<line x1="104.7" y1="876.9" x2="110.3" y2="876.9" stroke="#555" stroke-width="1.0" stroke-linecap="butt"/>
<line x1="132" y1="883.6" x2="132" y2="879.6" stroke="#555" stroke-width="1.0" stroke-linecap="butt"/>
<line x1="129.2" y1="879.6" x2="134.8" y2="879.6" stroke="#555" stroke-width="1.0" stroke-linecap="butt"/>
<line x1="156.6" y1="877.5" x2="156.6" y2="873.5" stroke="#555" stroke-width="1.0" stroke-linecap="butt"/>
<line x1="153.8" y1="873.5" x2="159.4" y2="873.5" stroke="#555" stroke-width="1.0" stroke-linecap="butt"/>
<line x1="181.3" y1="879.9" x2="181.3" y2="875.9" stroke="#555" stroke-width="1.0" stroke-linecap="butt"/>
<line x1="178.5" y1="875.9" x2="184.1" y2="875.9" stroke="#555" stroke-width="1.0" stroke-linecap="butt"/>
<circle cx="82.3" cy="886.6" r="3.2" fill="#b3b3b3"/>
<circle cx="107.5" cy="880.9" r="3.2" fill="#b3b3b3"/>
<circle cx="132" cy="883.6" r="3.2" fill="#b3b3b3"/>
<circle cx="156.6" cy="877.5" r="3.2" fill="#b3b3b3"/>
<circle cx="181.3" cy="879.9" r="3.2" fill="#b3b3b3"/>
<polyline points="82.3,876.5 107.5,879.2 132,880.9 156.6,876.5 181.3,880.9" fill="none" stroke="#707070" stroke-width="1.3" stroke-linejoin="round"/>
<line x1="82.3" y1="876.5" x2="82.3" y2="872.5" stroke="#333" stroke-width="1.0" stroke-linecap="butt"/>
<line x1="79.5" y1="872.5" x2="85.1" y2="872.5" stroke="#333" stroke-width="1.0" stroke-linecap="butt"/>
<line x1="107.5" y1="879.2" x2="107.5" y2="875.2" stroke="#333" stroke-width="1.0" stroke-linecap="butt"/>
<line x1="104.7" y1="875.2" x2="110.3" y2="875.2" stroke="#333" stroke-width="1.0" stroke-linecap="butt"/>
<line x1="132" y1="880.9" x2="132" y2="875.9" stroke="#333" stroke-width="1.0" stroke-linecap="butt"/>
<line x1="129.2" y1="875.9" x2="134.8" y2="875.9" stroke="#333" stroke-width="1.0" stroke-linecap="butt"/>
<line x1="156.6" y1="876.5" x2="156.6" y2="872.5" stroke="#333" stroke-width="1.0" stroke-linecap="butt"/>
<line x1="153.8" y1="872.5" x2="159.4" y2="872.5" stroke="#333" stroke-width="1.0" stroke-linecap="butt"/>
<line x1="181.3" y1="880.9" x2="181.3" y2="875.9" stroke="#333" stroke-width="1.0" stroke-linecap="butt"/>
<line x1="178.5" y1="875.9" x2="184.1" y2="875.9" stroke="#333" stroke-width="1.0" stroke-linecap="butt"/>
<circle cx="82.3" cy="876.5" r="3.2" fill="#707070"/>
<circle cx="107.5" cy="879.2" r="3.2" fill="#707070"/>
<circle cx="132" cy="880.9" r="3.2" fill="#707070"/>
<circle cx="156.6" cy="876.5" r="3.2" fill="#707070"/>
<circle cx="181.3" cy="880.9" r="3.2" fill="#707070"/>
<polyline points="82.3,880.9 107.5,931.3 132,962.5 156.6,982.3 181.3,910.1" fill="none" stroke="#f6a200" stroke-width="1.3" stroke-linejoin="round"/>
<line x1="107.5" y1="931.3" x2="107.5" y2="927.3" stroke="#555" stroke-width="1.0" stroke-linecap="butt"/>
<line x1="104.7" y1="927.3" x2="110.3" y2="927.3" stroke="#555" stroke-width="1.0" stroke-linecap="butt"/>
<line x1="132" y1="962.5" x2="132" y2="958.5" stroke="#555" stroke-width="1.0" stroke-linecap="butt"/>
<line x1="129.2" y1="958.5" x2="134.8" y2="958.5" stroke="#555" stroke-width="1.0" stroke-linecap="butt"/>
<line x1="156.6" y1="982.3" x2="156.6" y2="978.3" stroke="#555" stroke-width="1.0" stroke-linecap="butt"/>
<line x1="153.8" y1="978.3" x2="159.4" y2="978.3" stroke="#555" stroke-width="1.0" stroke-linecap="butt"/>
<line x1="181.3" y1="910.1" x2="181.3" y2="907.1" stroke="#555" stroke-width="1.0" stroke-linecap="butt"/>
<line x1="178.5" y1="907.1" x2="184.1" y2="907.1" stroke="#555" stroke-width="1.0" stroke-linecap="butt"/>
<circle cx="82.3" cy="880.9" r="3.2" fill="#f6a200"/>
<circle cx="107.5" cy="931.3" r="3.2" fill="#f6a200"/>
<circle cx="132" cy="962.5" r="3.2" fill="#f6a200"/>
<circle cx="156.6" cy="982.3" r="3.2" fill="#f6a200"/>
<circle cx="181.3" cy="910.1" r="3.2" fill="#f6a200"/>
<polyline points="82.3,878.2 107.5,913.8 132,919.5 156.6,920.2 181.3,894.3" fill="none" stroke="#952f74" stroke-width="1.3" stroke-linejoin="round"/>
<circle cx="82.3" cy="878.2" r="3.2" fill="#952f74"/>
<circle cx="107.5" cy="913.8" r="3.2" fill="#952f74"/>
<circle cx="132" cy="919.5" r="3.2" fill="#952f74"/>
<circle cx="156.6" cy="920.2" r="3.2" fill="#952f74"/>
<circle cx="181.3" cy="894.3" r="3.2" fill="#952f74"/>
<polyline points="82.3,879.2 107.5,913.8 132,913.5 156.6,910.1 181.3,891.6" fill="none" stroke="#e30a17" stroke-width="1.3" stroke-linejoin="round"/>
<line x1="132" y1="913.5" x2="132" y2="907.5" stroke="#333" stroke-width="1.0" stroke-linecap="butt"/>
<line x1="129.2" y1="907.5" x2="134.8" y2="907.5" stroke="#333" stroke-width="1.0" stroke-linecap="butt"/>
<line x1="156.6" y1="910.1" x2="156.6" y2="904.1" stroke="#333" stroke-width="1.0" stroke-linecap="butt"/>
<line x1="153.8" y1="904.1" x2="159.4" y2="904.1" stroke="#333" stroke-width="1.0" stroke-linecap="butt"/>
<line x1="181.3" y1="891.6" x2="181.3" y2="886.6" stroke="#333" stroke-width="1.0" stroke-linecap="butt"/>
<line x1="178.5" y1="886.6" x2="184.1" y2="886.6" stroke="#333" stroke-width="1.0" stroke-linecap="butt"/>
<circle cx="82.3" cy="879.2" r="3.2" fill="#e30a17"/>
<circle cx="107.5" cy="913.8" r="3.2" fill="#e30a17"/>
<circle cx="132" cy="913.5" r="3.2" fill="#e30a17"/>
<circle cx="156.6" cy="910.1" r="3.2" fill="#e30a17"/>
<circle cx="181.3" cy="891.6" r="3.2" fill="#e30a17"/>
<polyline points="82.3,882.6 107.5,906.7 132,910.4 156.6,913.8 181.3,893.3" fill="none" stroke="#1a14e8" stroke-width="1.3" stroke-linejoin="round"/>
<line x1="107.5" y1="906.7" x2="107.5" y2="900.7" stroke="#333" stroke-width="1.0" stroke-linecap="butt"/>
<line x1="104.7" y1="900.7" x2="110.3" y2="900.7" stroke="#333" stroke-width="1.0" stroke-linecap="butt"/>
<line x1="132" y1="910.4" x2="132" y2="905.4" stroke="#333" stroke-width="1.0" stroke-linecap="butt"/>
<line x1="129.2" y1="905.4" x2="134.8" y2="905.4" stroke="#333" stroke-width="1.0" stroke-linecap="butt"/>
<line x1="156.6" y1="913.8" x2="156.6" y2="908.8" stroke="#333" stroke-width="1.0" stroke-linecap="butt"/>
<line x1="153.8" y1="908.8" x2="159.4" y2="908.8" stroke="#333" stroke-width="1.0" stroke-linecap="butt"/>
<circle cx="82.3" cy="882.6" r="3.2" fill="#1a14e8"/>
<circle cx="107.5" cy="906.7" r="3.2" fill="#1a14e8"/>
<circle cx="132" cy="910.4" r="3.2" fill="#1a14e8"/>
<circle cx="156.6" cy="913.8" r="3.2" fill="#1a14e8"/>
<circle cx="181.3" cy="893.3" r="3.2" fill="#1a14e8"/>
<text transform="translate(104.8 947.7) scale(1 1.04)" font-size="11" text-anchor="middle">**</text>
<text transform="translate(131 979.6) scale(1 1.04)" font-size="11" text-anchor="middle">****</text>
<text transform="translate(156.1 997.1) scale(1 1.04)" font-size="11" text-anchor="middle">****</text>
<text transform="translate(132.6 931.8) scale(1 1.04)" font-size="8.4" text-anchor="middle" font-weight="bold">††††</text>
<text transform="translate(157.8 930.1) scale(1 1.04)" font-size="8.4" text-anchor="middle" font-weight="bold">††††</text>
<line x1="268.5" y1="830.6" x2="268.5" y2="1017.2" stroke="#000" stroke-width="1.2" stroke-linecap="butt"/>
<line x1="263.5" y1="1016.6" x2="268.5" y2="1016.6" stroke="#000" stroke-width="1.2" stroke-linecap="butt"/>
<text transform="translate(261.5 1021.1) scale(1 1.04)" font-size="15" text-anchor="end">0</text>
<line x1="263.5" y1="979.52" x2="268.5" y2="979.52" stroke="#000" stroke-width="1.2" stroke-linecap="butt"/>
<text transform="translate(261.5 984.02) scale(1 1.04)" font-size="15" text-anchor="end">1</text>
<line x1="263.5" y1="942.44" x2="268.5" y2="942.44" stroke="#000" stroke-width="1.2" stroke-linecap="butt"/>
<text transform="translate(261.5 946.94) scale(1 1.04)" font-size="15" text-anchor="end">2</text>
<line x1="263.5" y1="905.36" x2="268.5" y2="905.36" stroke="#000" stroke-width="1.2" stroke-linecap="butt"/>
<text transform="translate(261.5 909.86) scale(1 1.04)" font-size="15" text-anchor="end">3</text>
<line x1="263.5" y1="868.28" x2="268.5" y2="868.28" stroke="#000" stroke-width="1.2" stroke-linecap="butt"/>
<text transform="translate(261.5 872.78) scale(1 1.04)" font-size="15" text-anchor="end">4</text>
<line x1="263.5" y1="831.2" x2="268.5" y2="831.2" stroke="#000" stroke-width="1.2" stroke-linecap="butt"/>
<text transform="translate(261.5 835.7) scale(1 1.04)" font-size="15" text-anchor="end">5</text>
<text transform="translate(249.6 920.4) rotate(-90) scale(1 1.04)" font-size="15" text-anchor="middle" textLength="140.7" lengthAdjust="spacingAndGlyphs">Paw thickness  (mm)</text>
<line x1="267.9" y1="1016.5" x2="390.7" y2="1016.5" stroke="#000" stroke-width="1.2" stroke-linecap="butt"/>
<line x1="281.3" y1="1016.5" x2="281.3" y2="1021" stroke="#000" stroke-width="1.2" stroke-linecap="butt"/>
<line x1="304.8" y1="1016.5" x2="304.8" y2="1021" stroke="#000" stroke-width="1.2" stroke-linecap="butt"/>
<line x1="329.3" y1="1016.5" x2="329.3" y2="1021" stroke="#000" stroke-width="1.2" stroke-linecap="butt"/>
<line x1="354.5" y1="1016.5" x2="354.5" y2="1021" stroke="#000" stroke-width="1.2" stroke-linecap="butt"/>
<line x1="378.6" y1="1016.5" x2="378.6" y2="1021" stroke="#000" stroke-width="1.2" stroke-linecap="butt"/>
<text transform="translate(277.7 1035) scale(1 1.04)" font-size="15" text-anchor="middle">BL</text>
<text transform="translate(305.7 1035) scale(1 1.04)" font-size="15" text-anchor="middle">1</text>
<text transform="translate(329.9 1035) scale(1 1.04)" font-size="15" text-anchor="middle">3</text>
<text transform="translate(354.5 1035) scale(1 1.04)" font-size="15" text-anchor="middle">6</text>
<text transform="translate(379.3 1035) scale(1 1.04)" font-size="15" text-anchor="middle">24</text>
<text transform="translate(355.3 1049.1) scale(1 1.04)" font-size="15" text-anchor="middle">Time (h)</text>
<line x1="284.6" y1="1004.3" x2="284.6" y2="1013.5" stroke="#e30a17" stroke-width="1.2" stroke-linecap="butt"/>
<polyline points="281.8,1010 284.6,1014.5 287.4,1010" fill="none" stroke="#e30a17" stroke-width="1.2" stroke-linejoin="miter"/>
<line x1="296.4" y1="1004.3" x2="296.4" y2="1013.5" stroke="#000" stroke-width="1.2" stroke-linecap="butt"/>
<polyline points="293.6,1010 296.4,1014.5 299.2,1010" fill="none" stroke="#000" stroke-width="1.2" stroke-linejoin="miter"/>
<text transform="translate(313.5 1011.2) scale(1 1.04)" font-size="15">AAV-<tspan font-style="italic">Ptger2</tspan></text>
<line x1="245.3" y1="790.5" x2="262.1" y2="790.5" stroke="#333" stroke-width="1.3" stroke-linecap="butt"/>
<circle cx="253.7" cy="790.5" r="2.9" fill="#e30a17"/>
<text transform="translate(263.8 795.3) scale(1 1.04)" font-size="15"><tspan font-style="italic">Plp-Ptger2</tspan><tspan>/</tspan><tspan fill="#3a8fd5">Veh</tspan><tspan>/</tspan><tspan font-weight="bold">Cg</tspan></text>
<line x1="245.3" y1="803.2" x2="262.1" y2="803.2" stroke="#333" stroke-width="1.3" stroke-linecap="butt"/>
<circle cx="253.7" cy="803.2" r="2.9" fill="#952f74"/>
<text transform="translate(263.8 808) scale(1 1.04)" font-size="15"><tspan>Control/</tspan><tspan fill="#3a8fd5">Indo</tspan><tspan>/</tspan><tspan font-weight="bold">Cg</tspan></text>
<line x1="245.3" y1="815.9" x2="262.1" y2="815.9" stroke="#333" stroke-width="1.3" stroke-linecap="butt"/>
<circle cx="253.7" cy="815.9" r="2.9" fill="#1a14e8"/>
<text transform="translate(263.8 820.7) scale(1 1.04)" font-size="15"><tspan font-style="italic">Plp-Ptger2</tspan><tspan>/</tspan><tspan fill="#3a8fd5">Indo</tspan><tspan>/</tspan><tspan font-weight="bold">Cg</tspan></text>
<polyline points="279.9,952 304.8,953.8 329.3,957.4 353.8,953.8 378.6,955.8" fill="none" stroke="#707070" stroke-width="1.3" stroke-linejoin="round"/>
<circle cx="279.9" cy="952" r="3.2" fill="#707070"/>
<circle cx="304.8" cy="953.8" r="3.2" fill="#707070"/>
<circle cx="329.3" cy="957.4" r="3.2" fill="#707070"/>
<circle cx="353.8" cy="953.8" r="3.2" fill="#707070"/>
<circle cx="378.6" cy="955.8" r="3.2" fill="#707070"/>
<polyline points="279.9,950.7 304.8,953.8 329.3,951.4 353.8,952.4 378.6,950.7" fill="none" stroke="#b3b3b3" stroke-width="1.3" stroke-linejoin="round"/>
<circle cx="279.9" cy="950.7" r="3.2" fill="#b3b3b3"/>
<circle cx="304.8" cy="953.8" r="3.2" fill="#b3b3b3"/>
<circle cx="329.3" cy="951.4" r="3.2" fill="#b3b3b3"/>
<circle cx="353.8" cy="952.4" r="3.2" fill="#b3b3b3"/>
<circle cx="378.6" cy="950.7" r="3.2" fill="#b3b3b3"/>
<polyline points="279.9,952 304.8,920.5 329.3,885.3 353.8,862.4 378.6,943" fill="none" stroke="#f6a200" stroke-width="1.3" stroke-linejoin="round"/>
<line x1="304.8" y1="920.5" x2="304.8" y2="915.5" stroke="#555" stroke-width="1.0" stroke-linecap="butt"/>
<line x1="302" y1="915.5" x2="307.6" y2="915.5" stroke="#555" stroke-width="1.0" stroke-linecap="butt"/>
<line x1="329.3" y1="885.3" x2="329.3" y2="881.3" stroke="#555" stroke-width="1.0" stroke-linecap="butt"/>
<line x1="326.5" y1="881.3" x2="332.1" y2="881.3" stroke="#555" stroke-width="1.0" stroke-linecap="butt"/>
<line x1="353.8" y1="862.4" x2="353.8" y2="858.4" stroke="#555" stroke-width="1.0" stroke-linecap="butt"/>
<line x1="351" y1="858.4" x2="356.6" y2="858.4" stroke="#555" stroke-width="1.0" stroke-linecap="butt"/>
<line x1="378.6" y1="943" x2="378.6" y2="939" stroke="#555" stroke-width="1.0" stroke-linecap="butt"/>
<line x1="375.8" y1="939" x2="381.4" y2="939" stroke="#555" stroke-width="1.0" stroke-linecap="butt"/>
<circle cx="279.9" cy="952" r="3.2" fill="#f6a200"/>
<circle cx="304.8" cy="920.5" r="3.2" fill="#f6a200"/>
<circle cx="329.3" cy="885.3" r="3.2" fill="#f6a200"/>
<circle cx="353.8" cy="862.4" r="3.2" fill="#f6a200"/>
<circle cx="378.6" cy="943" r="3.2" fill="#f6a200"/>
<polyline points="279.9,954.1 304.8,926.9 329.3,890.3 353.8,869.8 378.6,938" fill="none" stroke="#e30a17" stroke-width="1.3" stroke-linejoin="round"/>
<circle cx="279.9" cy="954.1" r="3.2" fill="#e30a17"/>
<circle cx="304.8" cy="926.9" r="3.2" fill="#e30a17"/>
<circle cx="329.3" cy="890.3" r="3.2" fill="#e30a17"/>
<circle cx="353.8" cy="869.8" r="3.2" fill="#e30a17"/>
<circle cx="378.6" cy="938" r="3.2" fill="#e30a17"/>
<polyline points="279.9,952.4 304.8,926.2 329.3,919.5 353.8,930.6 378.6,944" fill="none" stroke="#952f74" stroke-width="1.3" stroke-linejoin="round"/>
<line x1="329.3" y1="919.5" x2="329.3" y2="913.5" stroke="#333" stroke-width="1.0" stroke-linecap="butt"/>
<line x1="326.5" y1="913.5" x2="332.1" y2="913.5" stroke="#333" stroke-width="1.0" stroke-linecap="butt"/>
<line x1="353.8" y1="930.6" x2="353.8" y2="924.6" stroke="#333" stroke-width="1.0" stroke-linecap="butt"/>
<line x1="351" y1="924.6" x2="356.6" y2="924.6" stroke="#333" stroke-width="1.0" stroke-linecap="butt"/>
<circle cx="279.9" cy="952.4" r="3.2" fill="#952f74"/>
<circle cx="304.8" cy="926.2" r="3.2" fill="#952f74"/>
<circle cx="329.3" cy="919.5" r="3.2" fill="#952f74"/>
<circle cx="353.8" cy="930.6" r="3.2" fill="#952f74"/>
<circle cx="378.6" cy="944" r="3.2" fill="#952f74"/>
<polyline points="279.9,953 304.8,931.9 329.3,927.9 353.8,933.6 378.6,944.7" fill="none" stroke="#1a14e8" stroke-width="1.3" stroke-linejoin="round"/>
<circle cx="279.9" cy="953" r="3.2" fill="#1a14e8"/>
<circle cx="304.8" cy="931.9" r="3.2" fill="#1a14e8"/>
<circle cx="329.3" cy="927.9" r="3.2" fill="#1a14e8"/>
<circle cx="353.8" cy="933.6" r="3.2" fill="#1a14e8"/>
<circle cx="378.6" cy="944.7" r="3.2" fill="#1a14e8"/>
<text transform="translate(294 926.9) scale(1 1.04)" font-size="11" text-anchor="middle">****</text>
<text transform="translate(324.2 884.6) scale(1 1.04)" font-size="11" text-anchor="middle">****</text>
<text transform="translate(356.1 856.4) scale(1 1.04)" font-size="11" text-anchor="middle">****</text>
<text transform="translate(332.6 911.6) scale(1 1.04)" font-size="8.4" text-anchor="middle" font-weight="bold">††††</text>
<text transform="translate(357.2 921.7) scale(1 1.04)" font-size="8.4" text-anchor="middle" font-weight="bold">††††</text>
<line x1="484.5" y1="828.1" x2="484.5" y2="1017.8" stroke="#000" stroke-width="1.2" stroke-linecap="butt"/>
<line x1="479.5" y1="1017.1" x2="484.5" y2="1017.1" stroke="#000" stroke-width="1.2" stroke-linecap="butt"/>
<text transform="translate(477.5 1021.6) scale(1 1.04)" font-size="15" text-anchor="end">-0.2</text>
<line x1="479.5" y1="979.4" x2="484.5" y2="979.4" stroke="#000" stroke-width="1.2" stroke-linecap="butt"/>
<text transform="translate(477.5 983.9) scale(1 1.04)" font-size="15" text-anchor="end">0.0</text>
<line x1="479.5" y1="941.7" x2="484.5" y2="941.7" stroke="#000" stroke-width="1.2" stroke-linecap="butt"/>
<text transform="translate(477.5 946.2) scale(1 1.04)" font-size="15" text-anchor="end">0.2</text>
<line x1="479.5" y1="904" x2="484.5" y2="904" stroke="#000" stroke-width="1.2" stroke-linecap="butt"/>
<text transform="translate(477.5 908.5) scale(1 1.04)" font-size="15" text-anchor="end">0.4</text>
<line x1="479.5" y1="866.3" x2="484.5" y2="866.3" stroke="#000" stroke-width="1.2" stroke-linecap="butt"/>
<text transform="translate(477.5 870.8) scale(1 1.04)" font-size="15" text-anchor="end">0.6</text>
<line x1="479.5" y1="828.6" x2="484.5" y2="828.6" stroke="#000" stroke-width="1.2" stroke-linecap="butt"/>
<text transform="translate(477.5 833.1) scale(1 1.04)" font-size="15" text-anchor="end">0.8</text>
<text transform="translate(450.2 918.5) rotate(-90) scale(1 1.04)" font-size="15" text-anchor="middle" textLength="204" lengthAdjust="spacingAndGlyphs">MPO activity (µU/ml/mg tissue)</text>
<line x1="497.5" y1="978.4" x2="508.5" y2="978.4" stroke="#000" stroke-width="1.6" stroke-linecap="butt"/>
<line x1="503" y1="978.4" x2="503" y2="974.4" stroke="#000" stroke-width="1.0" stroke-linecap="butt"/>
<line x1="500.5" y1="974.4" x2="505.5" y2="974.4" stroke="#000" stroke-width="1.0" stroke-linecap="butt"/>
<rect x="514.2" y="915.6" width="12.9" height="63.8" fill="#f6a200" stroke="#000" stroke-width="1.2"/>
<rect x="531.4" y="896.3" width="12.8" height="83.1" fill="#e30a17" stroke="#000" stroke-width="1.2"/>
<rect x="551" y="960.6" width="12.8" height="18.8" fill="#952f74" stroke="#000" stroke-width="1.2"/>
<rect x="567.8" y="950.6" width="13.2" height="28.8" fill="#1a14e8" stroke="#000" stroke-width="1.2"/>
<line x1="520.6" y1="915" x2="520.6" y2="909" stroke="#000" stroke-width="1.0" stroke-linecap="butt"/>
<line x1="518.1" y1="909" x2="523.1" y2="909" stroke="#000" stroke-width="1.0" stroke-linecap="butt"/>
<line x1="537.8" y1="895.7" x2="537.8" y2="888.7" stroke="#000" stroke-width="1.0" stroke-linecap="butt"/>
<line x1="535.3" y1="888.7" x2="540.3" y2="888.7" stroke="#000" stroke-width="1.0" stroke-linecap="butt"/>
<line x1="557.4" y1="960" x2="557.4" y2="952" stroke="#000" stroke-width="1.0" stroke-linecap="butt"/>
<line x1="554.9" y1="952" x2="559.9" y2="952" stroke="#000" stroke-width="1.0" stroke-linecap="butt"/>
<line x1="574.4" y1="950" x2="574.4" y2="945" stroke="#000" stroke-width="1.0" stroke-linecap="butt"/>
<line x1="571.9" y1="945" x2="576.9" y2="945" stroke="#000" stroke-width="1.0" stroke-linecap="butt"/>
<circle cx="501.4" cy="970" r="1.9" fill="#fff" stroke="#000" stroke-width="0.8"/>
<circle cx="495.8" cy="978.4" r="1.9" fill="#fff" stroke="#000" stroke-width="0.8"/>
<circle cx="500.1" cy="975.8" r="1.9" fill="#fff" stroke="#000" stroke-width="0.8"/>
<circle cx="506.3" cy="975.8" r="1.9" fill="#fff" stroke="#000" stroke-width="0.8"/>
<circle cx="495.8" cy="984" r="1.9" fill="#fff" stroke="#000" stroke-width="0.8"/>
<circle cx="501" cy="984" r="1.9" fill="#fff" stroke="#000" stroke-width="0.8"/>
<circle cx="506.3" cy="983.3" r="1.9" fill="#fff" stroke="#000" stroke-width="0.8"/>
<circle cx="520.6" cy="889.4" r="1.9" fill="#fff" stroke="#000" stroke-width="0.8"/>
<circle cx="520.6" cy="908.7" r="1.9" fill="#fff" stroke="#000" stroke-width="0.8"/>
<circle cx="515.9" cy="915" r="1.9" fill="#fff" stroke="#000" stroke-width="0.8"/>
<circle cx="520.6" cy="915.3" r="1.9" fill="#fff" stroke="#000" stroke-width="0.8"/>
<circle cx="525.9" cy="915" r="1.9" fill="#fff" stroke="#000" stroke-width="0.8"/>
<circle cx="520.6" cy="921" r="1.9" fill="#fff" stroke="#000" stroke-width="0.8"/>
<circle cx="525.9" cy="920.2" r="1.9" fill="#fff" stroke="#000" stroke-width="0.8"/>
<circle cx="520.6" cy="926.2" r="1.9" fill="#fff" stroke="#000" stroke-width="0.8"/>
<circle cx="537.8" cy="871" r="1.9" fill="#fff" stroke="#000" stroke-width="0.8"/>
<circle cx="537.8" cy="881.5" r="1.9" fill="#fff" stroke="#000" stroke-width="0.8"/>
<circle cx="532.2" cy="892" r="1.9" fill="#fff" stroke="#000" stroke-width="0.8"/>
<circle cx="543.4" cy="888.5" r="1.9" fill="#fff" stroke="#000" stroke-width="0.8"/>
<circle cx="543.4" cy="892.9" r="1.9" fill="#fff" stroke="#000" stroke-width="0.8"/>
<circle cx="537.8" cy="899.6" r="1.9" fill="#fff" stroke="#000" stroke-width="0.8"/>
<circle cx="537.8" cy="912.2" r="1.9" fill="#fff" stroke="#000" stroke-width="0.8"/>
<circle cx="537.8" cy="919.2" r="1.9" fill="#fff" stroke="#000" stroke-width="0.8"/>
<circle cx="551.5" cy="944.2" r="1.9" fill="#fff" stroke="#000" stroke-width="0.8"/>
<circle cx="557.1" cy="943.4" r="1.9" fill="#fff" stroke="#000" stroke-width="0.8"/>
<circle cx="562.7" cy="943.4" r="1.9" fill="#fff" stroke="#000" stroke-width="0.8"/>
<circle cx="557.1" cy="956" r="1.9" fill="#fff" stroke="#000" stroke-width="0.8"/>
<circle cx="551.8" cy="966.5" r="1.9" fill="#fff" stroke="#000" stroke-width="0.8"/>
<circle cx="562.3" cy="969.6" r="1.9" fill="#fff" stroke="#000" stroke-width="0.8"/>
<circle cx="557.1" cy="971.7" r="1.9" fill="#fff" stroke="#000" stroke-width="0.8"/>
<circle cx="557.1" cy="979.6" r="1.9" fill="#fff" stroke="#000" stroke-width="0.8"/>
<circle cx="571.5" cy="931.5" r="1.9" fill="#fff" stroke="#000" stroke-width="0.8"/>
<circle cx="577.2" cy="934.6" r="1.9" fill="#fff" stroke="#000" stroke-width="0.8"/>
<circle cx="574.6" cy="946.9" r="1.9" fill="#fff" stroke="#000" stroke-width="0.8"/>
<circle cx="569" cy="954.8" r="1.9" fill="#fff" stroke="#000" stroke-width="0.8"/>
<circle cx="574.6" cy="957.7" r="1.9" fill="#fff" stroke="#000" stroke-width="0.8"/>
<circle cx="579.5" cy="953.5" r="1.9" fill="#fff" stroke="#000" stroke-width="0.8"/>
<circle cx="569" cy="960.9" r="1.9" fill="#fff" stroke="#000" stroke-width="0.8"/>
<circle cx="579.5" cy="958.8" r="1.9" fill="#fff" stroke="#000" stroke-width="0.8"/>
<polyline points="520.6,876 520.6,861.4 557.1,861.4 557.1,933.7" fill="none" stroke="#2a2a2a" stroke-width="0.9" stroke-linejoin="miter"/>
<polyline points="530,882 501.4,882 501.4,964.4" fill="none" stroke="#2a2a2a" stroke-width="0.9" stroke-linejoin="miter"/>
<line x1="501.4" y1="910" x2="511.2" y2="910" stroke="#2a2a2a" stroke-width="0.9" stroke-linecap="butt"/>
<polyline points="543,870.7 574.6,870.7 574.6,925.8" fill="none" stroke="#2a2a2a" stroke-width="0.9" stroke-linejoin="miter"/>
<text transform="translate(538.2 856.6) scale(1 1.04)" font-size="12.5" text-anchor="middle">&lt;0.0001</text>
<text transform="translate(497.4 925.8) rotate(-90) scale(1 1.04)" font-size="12.5" text-anchor="middle">&lt;0.0001</text>
<text transform="translate(586.8 898.8) rotate(-90) scale(1 1.04)" font-size="12.5" text-anchor="middle">&lt;0.0001</text>
<text transform="translate(501.6 1010.4) scale(1 1.04)" font-size="15">AAV-<tspan font-style="italic">Ptger2</tspan></text>
<text transform="translate(27.5 1081.3) scale(1 1.04)" font-size="19.5" font-weight="bold">j</text>
<line x1="70.5" y1="1120.6" x2="70.5" y2="1307.8" stroke="#000" stroke-width="1.2" stroke-linecap="butt"/>
<line x1="65.5" y1="1307.2" x2="70.5" y2="1307.2" stroke="#000" stroke-width="1.2" stroke-linecap="butt"/>
<text transform="translate(63.5 1311.7) scale(1 1.04)" font-size="15" text-anchor="end">0.0</text>
<line x1="65.5" y1="1260.7" x2="70.5" y2="1260.7" stroke="#000" stroke-width="1.2" stroke-linecap="butt"/>
<text transform="translate(63.5 1265.2) scale(1 1.04)" font-size="15" text-anchor="end">0.5</text>
<line x1="65.5" y1="1214.2" x2="70.5" y2="1214.2" stroke="#000" stroke-width="1.2" stroke-linecap="butt"/>
<text transform="translate(63.5 1218.7) scale(1 1.04)" font-size="15" text-anchor="end">1.0</text>
<line x1="65.5" y1="1167.7" x2="70.5" y2="1167.7" stroke="#000" stroke-width="1.2" stroke-linecap="butt"/>
<text transform="translate(63.5 1172.2) scale(1 1.04)" font-size="15" text-anchor="end">1.5</text>
<line x1="65.5" y1="1121.2" x2="70.5" y2="1121.2" stroke="#000" stroke-width="1.2" stroke-linecap="butt"/>
<text transform="translate(63.5 1125.7) scale(1 1.04)" font-size="15" text-anchor="end">2.0</text>
<text transform="translate(39.2 1214.5) rotate(-90) scale(1 1.04)" font-size="15" text-anchor="middle">Threshold (g)</text>
<line x1="69.9" y1="1307.5" x2="194.8" y2="1307.5" stroke="#000" stroke-width="1.2" stroke-linecap="butt"/>
<line x1="81.3" y1="1307.5" x2="81.3" y2="1312" stroke="#000" stroke-width="1.2" stroke-linecap="butt"/>
<line x1="100.1" y1="1307.5" x2="100.1" y2="1312" stroke="#000" stroke-width="1.2" stroke-linecap="butt"/>
<line x1="121.6" y1="1307.5" x2="121.6" y2="1312" stroke="#000" stroke-width="1.2" stroke-linecap="butt"/>
<line x1="142.7" y1="1307.5" x2="142.7" y2="1312" stroke="#000" stroke-width="1.2" stroke-linecap="butt"/>
<line x1="162.9" y1="1307.5" x2="162.9" y2="1312" stroke="#000" stroke-width="1.2" stroke-linecap="butt"/>
<line x1="183" y1="1307.5" x2="183" y2="1312" stroke="#000" stroke-width="1.2" stroke-linecap="butt"/>
<text transform="translate(82 1325) scale(1 1.04)" font-size="15" text-anchor="middle">BL</text>
<text transform="translate(100 1325) scale(1 1.04)" font-size="15" text-anchor="middle">0</text>
<text transform="translate(121.2 1325) scale(1 1.04)" font-size="15" text-anchor="middle">0.5</text>
<text transform="translate(142 1325) scale(1 1.04)" font-size="15" text-anchor="middle">1</text>
<text transform="translate(162.9 1325) scale(1 1.04)" font-size="15" text-anchor="middle">2</text>
<text transform="translate(183 1325) scale(1 1.04)" font-size="15" text-anchor="middle">4</text>
<text transform="translate(151.8 1339.1) scale(1 1.04)" font-size="15" text-anchor="middle">Time (h)</text>
<polyline points="100.1,1339.1 100.1,1344.2 183,1344.2 183,1339.1" fill="none" stroke="#000" stroke-width="1.2" stroke-linejoin="miter"/>
<text transform="translate(141 1359.3) scale(1 1.04)" font-size="15" text-anchor="middle">Day 2</text>
<line x1="85.6" y1="1294.5" x2="85.6" y2="1303.5" stroke="#000" stroke-width="1.2" stroke-linecap="butt"/>
<polyline points="82.8,1300 85.6,1304.5 88.4,1300" fill="none" stroke="#000" stroke-width="1.2" stroke-linejoin="miter"/>
<line x1="106.8" y1="1294.5" x2="106.8" y2="1303.5" stroke="#e30a17" stroke-width="1.2" stroke-linecap="butt"/>
<polyline points="104,1300 106.8,1304.5 109.6,1300" fill="none" stroke="#e30a17" stroke-width="1.2" stroke-linejoin="miter"/>
<text transform="translate(115.8 1303.2) scale(1 1.04)" font-size="15">AAV-<tspan font-style="italic">Ptger2</tspan></text>
<line x1="45" y1="1078.8" x2="62" y2="1078.8" stroke="#333" stroke-width="1.3" stroke-linecap="butt"/>
<circle cx="53.5" cy="1078.8" r="2.9" fill="#b3b3b3"/>
<text transform="translate(63.4 1083.6) scale(1 1.04)" font-size="15"><tspan>Control/</tspan><tspan fill="#3a8fd5">Veh</tspan><tspan>/</tspan><tspan font-weight="bold">Veh</tspan></text>
<line x1="45" y1="1091.8" x2="62" y2="1091.8" stroke="#333" stroke-width="1.3" stroke-linecap="butt"/>
<circle cx="53.5" cy="1091.8" r="2.9" fill="#707070"/>
<text transform="translate(63.4 1096.6) scale(1 1.04)" font-size="15"><tspan font-style="italic">Plp-Ptger2</tspan><tspan>/</tspan><tspan fill="#3a8fd5">Veh</tspan><tspan>/</tspan><tspan font-weight="bold">Veh</tspan></text>
<line x1="45" y1="1104.8" x2="62" y2="1104.8" stroke="#333" stroke-width="1.3" stroke-linecap="butt"/>
<circle cx="53.5" cy="1104.8" r="2.9" fill="#f6a200"/>
<text transform="translate(63.4 1109.6) scale(1 1.04)" font-size="15"><tspan>Control/</tspan><tspan fill="#3a8fd5">Veh</tspan><tspan>/</tspan><tspan font-weight="bold">CFA</tspan></text>
<polyline points="79.6,1176.9 100.1,1171.6 120.9,1170.2 141.7,1170.2 162.9,1174.9 183.7,1163.5" fill="none" stroke="#b3b3b3" stroke-width="1.3" stroke-linejoin="round"/>
<line x1="79.6" y1="1176.9" x2="79.6" y2="1172.9" stroke="#555" stroke-width="1.0" stroke-linecap="butt"/>
<line x1="76.8" y1="1172.9" x2="82.4" y2="1172.9" stroke="#555" stroke-width="1.0" stroke-linecap="butt"/>
<line x1="120.9" y1="1170.2" x2="120.9" y2="1165.2" stroke="#555" stroke-width="1.0" stroke-linecap="butt"/>
<line x1="118.1" y1="1165.2" x2="123.7" y2="1165.2" stroke="#555" stroke-width="1.0" stroke-linecap="butt"/>
<circle cx="79.6" cy="1176.9" r="3.2" fill="#b3b3b3"/>
<circle cx="100.1" cy="1171.6" r="3.2" fill="#b3b3b3"/>
<circle cx="120.9" cy="1170.2" r="3.2" fill="#b3b3b3"/>
<circle cx="141.7" cy="1170.2" r="3.2" fill="#b3b3b3"/>
<circle cx="162.9" cy="1174.9" r="3.2" fill="#b3b3b3"/>
<circle cx="183.7" cy="1163.5" r="3.2" fill="#b3b3b3"/>
<polyline points="79.6,1173.6 100.1,1167.5 120.9,1172.6 141.7,1168.2 162.9,1176.6 183.7,1171.6" fill="none" stroke="#707070" stroke-width="1.3" stroke-linejoin="round"/>
<line x1="79.6" y1="1173.6" x2="79.6" y2="1169.6" stroke="#333" stroke-width="1.0" stroke-linecap="butt"/>
<line x1="76.8" y1="1169.6" x2="82.4" y2="1169.6" stroke="#333" stroke-width="1.0" stroke-linecap="butt"/>
<line x1="100.1" y1="1167.5" x2="100.1" y2="1162.5" stroke="#333" stroke-width="1.0" stroke-linecap="butt"/>
<line x1="97.3" y1="1162.5" x2="102.9" y2="1162.5" stroke="#333" stroke-width="1.0" stroke-linecap="butt"/>
<line x1="120.9" y1="1172.6" x2="120.9" y2="1168.6" stroke="#333" stroke-width="1.0" stroke-linecap="butt"/>
<line x1="118.1" y1="1168.6" x2="123.7" y2="1168.6" stroke="#333" stroke-width="1.0" stroke-linecap="butt"/>
<line x1="141.7" y1="1168.2" x2="141.7" y2="1164.2" stroke="#333" stroke-width="1.0" stroke-linecap="butt"/>
<line x1="138.9" y1="1164.2" x2="144.5" y2="1164.2" stroke="#333" stroke-width="1.0" stroke-linecap="butt"/>
<line x1="162.9" y1="1176.6" x2="162.9" y2="1171.6" stroke="#333" stroke-width="1.0" stroke-linecap="butt"/>
<line x1="160.1" y1="1171.6" x2="165.7" y2="1171.6" stroke="#333" stroke-width="1.0" stroke-linecap="butt"/>
<line x1="183.7" y1="1171.6" x2="183.7" y2="1167.6" stroke="#333" stroke-width="1.0" stroke-linecap="butt"/>
<line x1="180.9" y1="1167.6" x2="186.5" y2="1167.6" stroke="#333" stroke-width="1.0" stroke-linecap="butt"/>
<circle cx="79.6" cy="1173.6" r="3.2" fill="#707070"/>
<circle cx="100.1" cy="1167.5" r="3.2" fill="#707070"/>
<circle cx="120.9" cy="1172.6" r="3.2" fill="#707070"/>
<circle cx="141.7" cy="1168.2" r="3.2" fill="#707070"/>
<circle cx="162.9" cy="1176.6" r="3.2" fill="#707070"/>
<circle cx="183.7" cy="1171.6" r="3.2" fill="#707070"/>
<polyline points="79.6,1172 100.1,1279.7 120.9,1281.4 141.7,1279.7 162.9,1280.4 183.7,1279.4" fill="none" stroke="#f6a200" stroke-width="1.3" stroke-linejoin="round"/>
<line x1="120.9" y1="1281.4" x2="120.9" y2="1277.4" stroke="#555" stroke-width="1.0" stroke-linecap="butt"/>
<line x1="118.1" y1="1277.4" x2="123.7" y2="1277.4" stroke="#555" stroke-width="1.0" stroke-linecap="butt"/>
<line x1="162.9" y1="1280.4" x2="162.9" y2="1276.4" stroke="#555" stroke-width="1.0" stroke-linecap="butt"/>
<line x1="160.1" y1="1276.4" x2="165.7" y2="1276.4" stroke="#555" stroke-width="1.0" stroke-linecap="butt"/>
<line x1="183.7" y1="1279.4" x2="183.7" y2="1276.4" stroke="#555" stroke-width="1.0" stroke-linecap="butt"/>
<line x1="180.9" y1="1276.4" x2="186.5" y2="1276.4" stroke="#555" stroke-width="1.0" stroke-linecap="butt"/>
<circle cx="79.6" cy="1172" r="3.2" fill="#f6a200"/>
<circle cx="100.1" cy="1279.7" r="3.2" fill="#f6a200"/>
<circle cx="120.9" cy="1281.4" r="3.2" fill="#f6a200"/>
<circle cx="141.7" cy="1279.7" r="3.2" fill="#f6a200"/>
<circle cx="162.9" cy="1280.4" r="3.2" fill="#f6a200"/>
<circle cx="183.7" cy="1279.4" r="3.2" fill="#f6a200"/>
<polyline points="79.6,1167.5 100.1,1216.2 120.9,1212.9 141.7,1209.5 162.9,1213.9 183.7,1210.5" fill="none" stroke="#1a14e8" stroke-width="1.3" stroke-linejoin="round"/>
<line x1="183.7" y1="1210.5" x2="183.7" y2="1205.5" stroke="#333" stroke-width="1.0" stroke-linecap="butt"/>
<line x1="180.9" y1="1205.5" x2="186.5" y2="1205.5" stroke="#333" stroke-width="1.0" stroke-linecap="butt"/>
<circle cx="79.6" cy="1167.5" r="3.2" fill="#1a14e8"/>
<circle cx="100.1" cy="1216.2" r="3.2" fill="#1a14e8"/>
<circle cx="120.9" cy="1212.9" r="3.2" fill="#1a14e8"/>
<circle cx="141.7" cy="1209.5" r="3.2" fill="#1a14e8"/>
<circle cx="162.9" cy="1213.9" r="3.2" fill="#1a14e8"/>
<circle cx="183.7" cy="1210.5" r="3.2" fill="#1a14e8"/>
<polyline points="79.6,1182 100.1,1210.2 120.9,1212.2 141.7,1212.9 162.9,1212.9 183.7,1212.9" fill="none" stroke="#e30a17" stroke-width="1.3" stroke-linejoin="round"/>
<line x1="100.1" y1="1210.2" x2="100.1" y2="1205.2" stroke="#333" stroke-width="1.0" stroke-linecap="butt"/>
<line x1="97.3" y1="1205.2" x2="102.9" y2="1205.2" stroke="#333" stroke-width="1.0" stroke-linecap="butt"/>
<line x1="120.9" y1="1212.2" x2="120.9" y2="1206.2" stroke="#333" stroke-width="1.0" stroke-linecap="butt"/>
<line x1="118.1" y1="1206.2" x2="123.7" y2="1206.2" stroke="#333" stroke-width="1.0" stroke-linecap="butt"/>
<line x1="141.7" y1="1212.9" x2="141.7" y2="1207.9" stroke="#333" stroke-width="1.0" stroke-linecap="butt"/>
<line x1="138.9" y1="1207.9" x2="144.5" y2="1207.9" stroke="#333" stroke-width="1.0" stroke-linecap="butt"/>
<line x1="162.9" y1="1212.9" x2="162.9" y2="1207.9" stroke="#333" stroke-width="1.0" stroke-linecap="butt"/>
<line x1="160.1" y1="1207.9" x2="165.7" y2="1207.9" stroke="#333" stroke-width="1.0" stroke-linecap="butt"/>
<line x1="183.7" y1="1212.9" x2="183.7" y2="1208.9" stroke="#333" stroke-width="1.0" stroke-linecap="butt"/>
<line x1="180.9" y1="1208.9" x2="186.5" y2="1208.9" stroke="#333" stroke-width="1.0" stroke-linecap="butt"/>
<circle cx="79.6" cy="1182" r="3.2" fill="#e30a17"/>
<circle cx="100.1" cy="1210.2" r="3.2" fill="#e30a17"/>
<circle cx="120.9" cy="1212.2" r="3.2" fill="#e30a17"/>
<circle cx="141.7" cy="1212.9" r="3.2" fill="#e30a17"/>
<circle cx="162.9" cy="1212.9" r="3.2" fill="#e30a17"/>
<circle cx="183.7" cy="1212.9" r="3.2" fill="#e30a17"/>
<polyline points="79.6,1166.5 100.1,1277.7 120.9,1215.5 141.7,1203.8 162.9,1207.8 183.7,1250.8" fill="none" stroke="#952f74" stroke-width="1.3" stroke-linejoin="round"/>
<line x1="162.9" y1="1207.8" x2="162.9" y2="1203.8" stroke="#333" stroke-width="1.0" stroke-linecap="butt"/>
<line x1="160.1" y1="1203.8" x2="165.7" y2="1203.8" stroke="#333" stroke-width="1.0" stroke-linecap="butt"/>
<line x1="183.7" y1="1250.8" x2="183.7" y2="1243.8" stroke="#333" stroke-width="1.0" stroke-linecap="butt"/>
<line x1="180.9" y1="1243.8" x2="186.5" y2="1243.8" stroke="#333" stroke-width="1.0" stroke-linecap="butt"/>
<circle cx="79.6" cy="1166.5" r="3.2" fill="#952f74"/>
<circle cx="100.1" cy="1277.7" r="3.2" fill="#952f74"/>
<circle cx="120.9" cy="1215.5" r="3.2" fill="#952f74"/>
<circle cx="141.7" cy="1203.8" r="3.2" fill="#952f74"/>
<circle cx="162.9" cy="1207.8" r="3.2" fill="#952f74"/>
<circle cx="183.7" cy="1250.8" r="3.2" fill="#952f74"/>
<text transform="translate(100.7 1199.9) scale(1 1.04)" font-size="8.4" text-anchor="middle" font-weight="bold">††††</text>
<text transform="translate(122.6 1201.6) scale(1 1.04)" font-size="8.4" text-anchor="middle" font-weight="bold">††††</text>
<text transform="translate(141.7 1198.3) scale(1 1.04)" font-size="8.4" text-anchor="middle" font-weight="bold">††††</text>
<text transform="translate(165.2 1199.9) scale(1 1.04)" font-size="8.4" text-anchor="middle" font-weight="bold">††††</text>
<text transform="translate(187.4 1204) scale(1 1.04)" font-size="8.4" text-anchor="middle" font-weight="bold">††††</text>
<text transform="translate(128.3 1226.2) scale(1 1.04)" font-size="8.4" text-anchor="middle" font-weight="bold">††††</text>
<text transform="translate(144.4 1223.5) scale(1 1.04)" font-size="8.4" text-anchor="middle" font-weight="bold">††††</text>
<text transform="translate(161.2 1226.2) scale(1 1.04)" font-size="8.4" text-anchor="middle" font-weight="bold">††††</text>
<text transform="translate(181.3 1261.5) scale(1 1.04)" font-size="8.4" text-anchor="middle" font-weight="bold">††††</text>
<text transform="translate(96.7 1291.8) scale(1 1.04)" font-size="11" text-anchor="middle">****</text>
<text transform="translate(118.2 1294.2) scale(1 1.04)" font-size="11" text-anchor="middle">****</text>
<text transform="translate(141 1291.8) scale(1 1.04)" font-size="11" text-anchor="middle">****</text>
<text transform="translate(165.2 1293.4) scale(1 1.04)" font-size="11" text-anchor="middle">****</text>
<text transform="translate(186.4 1292.8) scale(1 1.04)" font-size="11" text-anchor="middle">****</text>
<line x1="268.5" y1="1120.6" x2="268.5" y2="1307.2" stroke="#000" stroke-width="1.2" stroke-linecap="butt"/>
<line x1="263.5" y1="1306.6" x2="268.5" y2="1306.6" stroke="#000" stroke-width="1.2" stroke-linecap="butt"/>
<text transform="translate(261.5 1311.1) scale(1 1.04)" font-size="15" text-anchor="end">0</text>
<line x1="263.5" y1="1269.52" x2="268.5" y2="1269.52" stroke="#000" stroke-width="1.2" stroke-linecap="butt"/>
<text transform="translate(261.5 1274.02) scale(1 1.04)" font-size="15" text-anchor="end">1</text>
<line x1="263.5" y1="1232.44" x2="268.5" y2="1232.44" stroke="#000" stroke-width="1.2" stroke-linecap="butt"/>
<text transform="translate(261.5 1236.94) scale(1 1.04)" font-size="15" text-anchor="end">2</text>
<line x1="263.5" y1="1195.36" x2="268.5" y2="1195.36" stroke="#000" stroke-width="1.2" stroke-linecap="butt"/>
<text transform="translate(261.5 1199.86) scale(1 1.04)" font-size="15" text-anchor="end">3</text>
<line x1="263.5" y1="1158.28" x2="268.5" y2="1158.28" stroke="#000" stroke-width="1.2" stroke-linecap="butt"/>
<text transform="translate(261.5 1162.78) scale(1 1.04)" font-size="15" text-anchor="end">4</text>
<line x1="263.5" y1="1121.2" x2="268.5" y2="1121.2" stroke="#000" stroke-width="1.2" stroke-linecap="butt"/>
<text transform="translate(261.5 1125.7) scale(1 1.04)" font-size="15" text-anchor="end">5</text>
<text transform="translate(249.6 1212) rotate(-90) scale(1 1.04)" font-size="15" text-anchor="middle" textLength="140.7" lengthAdjust="spacingAndGlyphs">Paw thickness  (mm)</text>
<line x1="267.9" y1="1306.5" x2="393.1" y2="1306.5" stroke="#000" stroke-width="1.2" stroke-linecap="butt"/>
<line x1="279.6" y1="1306.5" x2="279.6" y2="1311" stroke="#000" stroke-width="1.2" stroke-linecap="butt"/>
<line x1="300" y1="1306.5" x2="300" y2="1311" stroke="#000" stroke-width="1.2" stroke-linecap="butt"/>
<line x1="320.2" y1="1306.5" x2="320.2" y2="1311" stroke="#000" stroke-width="1.2" stroke-linecap="butt"/>
<line x1="341" y1="1306.5" x2="341" y2="1311" stroke="#000" stroke-width="1.2" stroke-linecap="butt"/>
<line x1="361.2" y1="1306.5" x2="361.2" y2="1311" stroke="#000" stroke-width="1.2" stroke-linecap="butt"/>
<line x1="382" y1="1306.5" x2="382" y2="1311" stroke="#000" stroke-width="1.2" stroke-linecap="butt"/>
<text transform="translate(275.2 1325) scale(1 1.04)" font-size="15" text-anchor="middle">BL</text>
<text transform="translate(298.8 1325) scale(1 1.04)" font-size="15" text-anchor="middle">0</text>
<text transform="translate(321.7 1325) scale(1 1.04)" font-size="15" text-anchor="middle">0.5</text>
<text transform="translate(340.5 1325) scale(1 1.04)" font-size="15" text-anchor="middle">1</text>
<text transform="translate(360.5 1325) scale(1 1.04)" font-size="15" text-anchor="middle">2</text>
<text transform="translate(381.2 1325) scale(1 1.04)" font-size="15" text-anchor="middle">4</text>
<text transform="translate(356.2 1339.1) scale(1 1.04)" font-size="15" text-anchor="middle">Time (h)</text>
<polyline points="301.4,1339.1 301.4,1344.2 383,1344.2 383,1339.1" fill="none" stroke="#000" stroke-width="1.2" stroke-linejoin="miter"/>
<text transform="translate(342.2 1359.3) scale(1 1.04)" font-size="15" text-anchor="middle">Day 2</text>
<line x1="283.3" y1="1294.5" x2="283.3" y2="1303.5" stroke="#000" stroke-width="1.2" stroke-linecap="butt"/>
<polyline points="280.5,1300 283.3,1304.5 286.1,1300" fill="none" stroke="#000" stroke-width="1.2" stroke-linejoin="miter"/>
<line x1="304.8" y1="1294.5" x2="304.8" y2="1303.5" stroke="#e30a17" stroke-width="1.2" stroke-linecap="butt"/>
<polyline points="302,1300 304.8,1304.5 307.6,1300" fill="none" stroke="#e30a17" stroke-width="1.2" stroke-linejoin="miter"/>
<text transform="translate(314.2 1303.2) scale(1 1.04)" font-size="15">AAV-<tspan font-style="italic">Ptger2</tspan></text>
<line x1="236.3" y1="1078.8" x2="252" y2="1078.8" stroke="#333" stroke-width="1.3" stroke-linecap="butt"/>
<circle cx="244.15" cy="1078.8" r="2.9" fill="#e30a17"/>
<text transform="translate(253.7 1083.6) scale(1 1.04)" font-size="15"><tspan font-style="italic">Plp-Ptger2</tspan><tspan>/</tspan><tspan fill="#3a8fd5">Veh</tspan><tspan>/</tspan><tspan font-weight="bold">CFA</tspan></text>
<line x1="236.3" y1="1091.8" x2="252" y2="1091.8" stroke="#333" stroke-width="1.3" stroke-linecap="butt"/>
<circle cx="244.15" cy="1091.8" r="2.9" fill="#952f74"/>
<text transform="translate(253.7 1096.6) scale(1 1.04)" font-size="15"><tspan>Control/</tspan><tspan fill="#3a8fd5">Indo</tspan><tspan>/</tspan><tspan font-weight="bold">CFA</tspan></text>
<line x1="236.3" y1="1104.8" x2="252" y2="1104.8" stroke="#333" stroke-width="1.3" stroke-linecap="butt"/>
<circle cx="244.15" cy="1104.8" r="2.9" fill="#1a14e8"/>
<text transform="translate(253.7 1109.6) scale(1 1.04)" font-size="15"><tspan font-style="italic">Plp-Ptger2</tspan><tspan>/</tspan><tspan fill="#3a8fd5">Indo</tspan><tspan>/</tspan><tspan font-weight="bold">CFA</tspan></text>
<polyline points="279.6,1244.8 299.7,1244.1 320.2,1242.1 341,1247.4 361.2,1244.1 382,1248.8" fill="none" stroke="#707070" stroke-width="1.3" stroke-linejoin="round"/>
<circle cx="279.6" cy="1244.8" r="3.2" fill="#707070"/>
<circle cx="299.7" cy="1244.1" r="3.2" fill="#707070"/>
<circle cx="320.2" cy="1242.1" r="3.2" fill="#707070"/>
<circle cx="341" cy="1247.4" r="3.2" fill="#707070"/>
<circle cx="361.2" cy="1244.1" r="3.2" fill="#707070"/>
<circle cx="382" cy="1248.8" r="3.2" fill="#707070"/>
<polyline points="279.6,1244.8 299.7,1244.8 320.2,1246.4 341,1248.1 361.2,1243.8 382,1244.8" fill="none" stroke="#b3b3b3" stroke-width="1.3" stroke-linejoin="round"/>
<line x1="299.7" y1="1244.8" x2="299.7" y2="1240.8" stroke="#555" stroke-width="1.0" stroke-linecap="butt"/>
<line x1="296.9" y1="1240.8" x2="302.5" y2="1240.8" stroke="#555" stroke-width="1.0" stroke-linecap="butt"/>
<circle cx="279.6" cy="1244.8" r="3.2" fill="#b3b3b3"/>
<circle cx="299.7" cy="1244.8" r="3.2" fill="#b3b3b3"/>
<circle cx="320.2" cy="1246.4" r="3.2" fill="#b3b3b3"/>
<circle cx="341" cy="1248.1" r="3.2" fill="#b3b3b3"/>
<circle cx="361.2" cy="1243.8" r="3.2" fill="#b3b3b3"/>
<circle cx="382" cy="1244.8" r="3.2" fill="#b3b3b3"/>
<polyline points="279.6,1242.1 299.7,1163.2 320.2,1159.1 341,1159.8 361.2,1155.8 382,1155.1" fill="none" stroke="#f6a200" stroke-width="1.3" stroke-linejoin="round"/>
<circle cx="279.6" cy="1242.1" r="3.2" fill="#f6a200"/>
<circle cx="299.7" cy="1163.2" r="3.2" fill="#f6a200"/>
<circle cx="320.2" cy="1159.1" r="3.2" fill="#f6a200"/>
<circle cx="341" cy="1159.8" r="3.2" fill="#f6a200"/>
<circle cx="361.2" cy="1155.8" r="3.2" fill="#f6a200"/>
<circle cx="382" cy="1155.1" r="3.2" fill="#f6a200"/>
<polyline points="279.6,1241.4 299.7,1172.6 320.2,1200.1 341,1207.8 361.2,1197.7 382,1176.6" fill="none" stroke="#952f74" stroke-width="1.3" stroke-linejoin="round"/>
<line x1="320.2" y1="1200.1" x2="320.2" y2="1194.1" stroke="#333" stroke-width="1.0" stroke-linecap="butt"/>
<line x1="317.4" y1="1194.1" x2="323" y2="1194.1" stroke="#333" stroke-width="1.0" stroke-linecap="butt"/>
<line x1="341" y1="1207.8" x2="341" y2="1202.8" stroke="#333" stroke-width="1.0" stroke-linecap="butt"/>
<line x1="338.2" y1="1202.8" x2="343.8" y2="1202.8" stroke="#333" stroke-width="1.0" stroke-linecap="butt"/>
<line x1="361.2" y1="1197.7" x2="361.2" y2="1192.7" stroke="#333" stroke-width="1.0" stroke-linecap="butt"/>
<line x1="358.4" y1="1192.7" x2="364" y2="1192.7" stroke="#333" stroke-width="1.0" stroke-linecap="butt"/>
<line x1="382" y1="1176.6" x2="382" y2="1171.6" stroke="#333" stroke-width="1.0" stroke-linecap="butt"/>
<line x1="379.2" y1="1171.6" x2="384.8" y2="1171.6" stroke="#333" stroke-width="1.0" stroke-linecap="butt"/>
<circle cx="279.6" cy="1241.4" r="3.2" fill="#952f74"/>
<circle cx="299.7" cy="1172.6" r="3.2" fill="#952f74"/>
<circle cx="320.2" cy="1200.1" r="3.2" fill="#952f74"/>
<circle cx="341" cy="1207.8" r="3.2" fill="#952f74"/>
<circle cx="361.2" cy="1197.7" r="3.2" fill="#952f74"/>
<circle cx="382" cy="1176.6" r="3.2" fill="#952f74"/>
<polyline points="279.6,1243.1 299.7,1169.2 320.2,1212.9 341,1215.5 361.2,1196.7 382,1181" fill="none" stroke="#1a14e8" stroke-width="1.3" stroke-linejoin="round"/>
<line x1="320.2" y1="1212.9" x2="320.2" y2="1204.9" stroke="#333" stroke-width="1.0" stroke-linecap="butt"/>
<line x1="317.4" y1="1204.9" x2="323" y2="1204.9" stroke="#333" stroke-width="1.0" stroke-linecap="butt"/>
<circle cx="279.6" cy="1243.1" r="3.2" fill="#1a14e8"/>
<circle cx="299.7" cy="1169.2" r="3.2" fill="#1a14e8"/>
<circle cx="320.2" cy="1212.9" r="3.2" fill="#1a14e8"/>
<circle cx="341" cy="1215.5" r="3.2" fill="#1a14e8"/>
<circle cx="361.2" cy="1196.7" r="3.2" fill="#1a14e8"/>
<circle cx="382" cy="1181" r="3.2" fill="#1a14e8"/>
<polyline points="279.6,1243.1 299.7,1164.8 320.2,1156.8 341,1162.5 361.2,1155.8 382,1152.4" fill="none" stroke="#e30a17" stroke-width="1.3" stroke-linejoin="round"/>
<line x1="320.2" y1="1156.8" x2="320.2" y2="1149.8" stroke="#333" stroke-width="1.0" stroke-linecap="butt"/>
<line x1="317.4" y1="1149.8" x2="323" y2="1149.8" stroke="#333" stroke-width="1.0" stroke-linecap="butt"/>
<line x1="341" y1="1162.5" x2="341" y2="1155.5" stroke="#333" stroke-width="1.0" stroke-linecap="butt"/>
<line x1="338.2" y1="1155.5" x2="343.8" y2="1155.5" stroke="#333" stroke-width="1.0" stroke-linecap="butt"/>
<line x1="361.2" y1="1155.8" x2="361.2" y2="1151.8" stroke="#333" stroke-width="1.0" stroke-linecap="butt"/>
<line x1="358.4" y1="1151.8" x2="364" y2="1151.8" stroke="#333" stroke-width="1.0" stroke-linecap="butt"/>
<line x1="382" y1="1152.4" x2="382" y2="1147.4" stroke="#333" stroke-width="1.0" stroke-linecap="butt"/>
<line x1="379.2" y1="1147.4" x2="384.8" y2="1147.4" stroke="#333" stroke-width="1.0" stroke-linecap="butt"/>
<circle cx="279.6" cy="1243.1" r="3.2" fill="#e30a17"/>
<circle cx="299.7" cy="1164.8" r="3.2" fill="#e30a17"/>
<circle cx="320.2" cy="1156.8" r="3.2" fill="#e30a17"/>
<circle cx="341" cy="1162.5" r="3.2" fill="#e30a17"/>
<circle cx="361.2" cy="1155.8" r="3.2" fill="#e30a17"/>
<circle cx="382" cy="1152.4" r="3.2" fill="#e30a17"/>
<text transform="translate(302.4 1161.2) scale(1 1.04)" font-size="11" text-anchor="middle">****</text>
<text transform="translate(321.6 1153.8) scale(1 1.04)" font-size="11" text-anchor="middle">****</text>
<text transform="translate(342.7 1153.8) scale(1 1.04)" font-size="11" text-anchor="middle">****</text>
<text transform="translate(361.2 1153.1) scale(1 1.04)" font-size="11" text-anchor="middle">****</text>
<text transform="translate(383 1150.4) scale(1 1.04)" font-size="11" text-anchor="middle">****</text>
<text transform="translate(324.2 1189.9) scale(1 1.04)" font-size="8.4" text-anchor="middle" font-weight="bold">††††</text>
<text transform="translate(342.7 1199.9) scale(1 1.04)" font-size="8.4" text-anchor="middle" font-weight="bold">††††</text>
<text transform="translate(360.5 1188.2) scale(1 1.04)" font-size="8.4" text-anchor="middle" font-weight="bold">††††</text>
<line x1="487.5" y1="1118" x2="487.5" y2="1307.9" stroke="#000" stroke-width="1.2" stroke-linecap="butt"/>
<line x1="482.5" y1="1307.27" x2="487.5" y2="1307.27" stroke="#000" stroke-width="1.2" stroke-linecap="butt"/>
<text transform="translate(480.5 1311.77) scale(1 1.04)" font-size="15" text-anchor="end">-0.5</text>
<line x1="482.5" y1="1260.1" x2="487.5" y2="1260.1" stroke="#000" stroke-width="1.2" stroke-linecap="butt"/>
<text transform="translate(480.5 1264.6) scale(1 1.04)" font-size="15" text-anchor="end">0.0</text>
<line x1="482.5" y1="1212.92" x2="487.5" y2="1212.92" stroke="#000" stroke-width="1.2" stroke-linecap="butt"/>
<text transform="translate(480.5 1217.42) scale(1 1.04)" font-size="15" text-anchor="end">0.5</text>
<line x1="482.5" y1="1165.75" x2="487.5" y2="1165.75" stroke="#000" stroke-width="1.2" stroke-linecap="butt"/>
<text transform="translate(480.5 1170.25) scale(1 1.04)" font-size="15" text-anchor="end">1.0</text>
<line x1="482.5" y1="1118.57" x2="487.5" y2="1118.57" stroke="#000" stroke-width="1.2" stroke-linecap="butt"/>
<text transform="translate(480.5 1123.07) scale(1 1.04)" font-size="15" text-anchor="end">1.5</text>
<text transform="translate(455.2 1208.2) rotate(-90) scale(1 1.04)" font-size="15" text-anchor="middle" textLength="205" lengthAdjust="spacingAndGlyphs">MPO activity (µU/ml/mg tissue)</text>
<line x1="498" y1="1259.1" x2="512" y2="1259.1" stroke="#000" stroke-width="1.6" stroke-linecap="butt"/>
<rect x="517.9" y="1185.7" width="12.3" height="74.4" fill="#f6a200" stroke="#000" stroke-width="1.2"/>
<rect x="534.7" y="1189.7" width="12.9" height="70.4" fill="#e30a17" stroke="#000" stroke-width="1.2"/>
<rect x="553.9" y="1225" width="13.2" height="35.1" fill="#952f74" stroke="#000" stroke-width="1.2"/>
<rect x="570.7" y="1225.7" width="13.2" height="34.4" fill="#1a14e8" stroke="#000" stroke-width="1.2"/>
<line x1="524" y1="1185.1" x2="524" y2="1178.1" stroke="#000" stroke-width="1.0" stroke-linecap="butt"/>
<line x1="521.5" y1="1178.1" x2="526.5" y2="1178.1" stroke="#000" stroke-width="1.0" stroke-linecap="butt"/>
<line x1="541.1" y1="1189.1" x2="541.1" y2="1181.1" stroke="#000" stroke-width="1.0" stroke-linecap="butt"/>
<line x1="538.6" y1="1181.1" x2="543.6" y2="1181.1" stroke="#000" stroke-width="1.0" stroke-linecap="butt"/>
<line x1="560.5" y1="1224.4" x2="560.5" y2="1219.4" stroke="#000" stroke-width="1.0" stroke-linecap="butt"/>
<line x1="558" y1="1219.4" x2="563" y2="1219.4" stroke="#000" stroke-width="1.0" stroke-linecap="butt"/>
<line x1="577.3" y1="1225.1" x2="577.3" y2="1219.1" stroke="#000" stroke-width="1.0" stroke-linecap="butt"/>
<line x1="574.8" y1="1219.1" x2="579.8" y2="1219.1" stroke="#000" stroke-width="1.0" stroke-linecap="butt"/>
<circle cx="500.6" cy="1257.5" r="1.9" fill="#fff" stroke="#000" stroke-width="0.8"/>
<circle cx="505.6" cy="1257.5" r="1.9" fill="#fff" stroke="#000" stroke-width="0.8"/>
<circle cx="510.6" cy="1257.5" r="1.9" fill="#fff" stroke="#000" stroke-width="0.8"/>
<circle cx="500.6" cy="1262.5" r="1.9" fill="#fff" stroke="#000" stroke-width="0.8"/>
<circle cx="505.6" cy="1262.5" r="1.9" fill="#fff" stroke="#000" stroke-width="0.8"/>
<circle cx="510.6" cy="1262.5" r="1.9" fill="#fff" stroke="#000" stroke-width="0.8"/>
<circle cx="524.1" cy="1158.9" r="1.9" fill="#fff" stroke="#000" stroke-width="0.8"/>
<circle cx="524.1" cy="1166.6" r="1.9" fill="#fff" stroke="#000" stroke-width="0.8"/>
<circle cx="522.4" cy="1182.4" r="1.9" fill="#fff" stroke="#000" stroke-width="0.8"/>
<circle cx="518.4" cy="1189.1" r="1.9" fill="#fff" stroke="#000" stroke-width="0.8"/>
<circle cx="525.7" cy="1189.1" r="1.9" fill="#fff" stroke="#000" stroke-width="0.8"/>
<circle cx="529.1" cy="1195.9" r="1.9" fill="#fff" stroke="#000" stroke-width="0.8"/>
<circle cx="519.7" cy="1197.5" r="1.9" fill="#fff" stroke="#000" stroke-width="0.8"/>
<circle cx="540.8" cy="1161.6" r="1.9" fill="#fff" stroke="#000" stroke-width="0.8"/>
<circle cx="540.8" cy="1171.7" r="1.9" fill="#fff" stroke="#000" stroke-width="0.8"/>
<circle cx="540.8" cy="1184.1" r="1.9" fill="#fff" stroke="#000" stroke-width="0.8"/>
<circle cx="535.8" cy="1189.1" r="1.9" fill="#fff" stroke="#000" stroke-width="0.8"/>
<circle cx="546.6" cy="1190.1" r="1.9" fill="#fff" stroke="#000" stroke-width="0.8"/>
<circle cx="535.1" cy="1197.5" r="1.9" fill="#fff" stroke="#000" stroke-width="0.8"/>
<circle cx="540.8" cy="1197.5" r="1.9" fill="#fff" stroke="#000" stroke-width="0.8"/>
<circle cx="556" cy="1217" r="1.9" fill="#fff" stroke="#000" stroke-width="0.8"/>
<circle cx="561" cy="1217.7" r="1.9" fill="#fff" stroke="#000" stroke-width="0.8"/>
<circle cx="565.4" cy="1214.3" r="1.9" fill="#fff" stroke="#000" stroke-width="0.8"/>
<circle cx="554.3" cy="1222.7" r="1.9" fill="#fff" stroke="#000" stroke-width="0.8"/>
<circle cx="561" cy="1224.4" r="1.9" fill="#fff" stroke="#000" stroke-width="0.8"/>
<circle cx="561" cy="1232.8" r="1.9" fill="#fff" stroke="#000" stroke-width="0.8"/>
<circle cx="561" cy="1239.5" r="1.9" fill="#fff" stroke="#000" stroke-width="0.8"/>
<circle cx="571.7" cy="1210.3" r="1.9" fill="#fff" stroke="#000" stroke-width="0.8"/>
<circle cx="576.8" cy="1213.6" r="1.9" fill="#fff" stroke="#000" stroke-width="0.8"/>
<circle cx="582.8" cy="1214.3" r="1.9" fill="#fff" stroke="#000" stroke-width="0.8"/>
<circle cx="571.7" cy="1223.7" r="1.9" fill="#fff" stroke="#000" stroke-width="0.8"/>
<circle cx="577.8" cy="1230.4" r="1.9" fill="#fff" stroke="#000" stroke-width="0.8"/>
<circle cx="573.4" cy="1244.5" r="1.9" fill="#fff" stroke="#000" stroke-width="0.8"/>
<circle cx="580.1" cy="1244.5" r="1.9" fill="#fff" stroke="#000" stroke-width="0.8"/>
<polyline points="524.1,1155.6 524.1,1150.5 561,1150.5 561,1216" fill="none" stroke="#2a2a2a" stroke-width="0.9" stroke-linejoin="miter"/>
<polyline points="539.2,1175.7 502.9,1175.7 502.9,1247.9" fill="none" stroke="#2a2a2a" stroke-width="0.9" stroke-linejoin="miter"/>
<line x1="502.9" y1="1185.8" x2="510.6" y2="1185.8" stroke="#2a2a2a" stroke-width="0.9" stroke-linecap="butt"/>
<polyline points="546.6,1161.3 578.8,1161.3 578.8,1180.7" fill="none" stroke="#2a2a2a" stroke-width="0.9" stroke-linejoin="miter"/>
<text transform="translate(540.8 1145.5) scale(1 1.04)" font-size="12.5" text-anchor="middle">&lt;0.0001</text>
<text transform="translate(499.6 1207.6) rotate(-90) scale(1 1.04)" font-size="12.5" text-anchor="middle">&lt;0.0001</text>
<text transform="translate(589.6 1183.8) rotate(-90) scale(1 1.04)" font-size="12.5" text-anchor="middle">&lt;0.0001</text>
<text transform="translate(505.6 1294.9) scale(1 1.04)" font-size="15">AAV-<tspan font-style="italic">Ptger2</tspan></text>
</svg>
</body></html>
